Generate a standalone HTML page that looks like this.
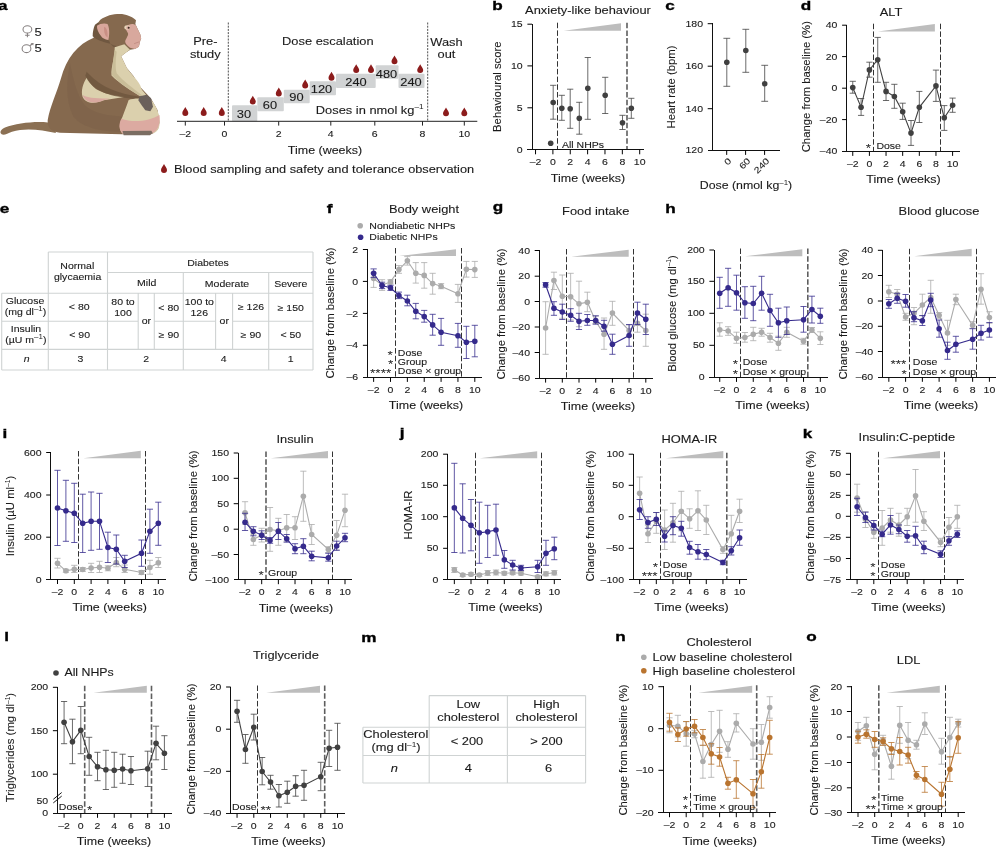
<!DOCTYPE html>
<html><head><meta charset="utf-8"><title>figure</title>
<style>html,body{margin:0;padding:0;background:#fff}body{width:996px;height:848px;overflow:hidden}svg{display:block;will-change:transform;font-family:"Liberation Sans",sans-serif;fill:#1a1a1a}</style>
</head><body>
<svg width="996" height="848" viewBox="0 0 996 848">
<rect width="996" height="848" fill="#fff"/>
<g transform="scale(0.166667)">
<path d="M330 742C250 722 110 735 30 765C5 776 -6 796 10 806C25 815 45 800 72 790C150 765 250 778 335 798Z" fill="#8b7053"/>
<path d="M602 118C640 92 680 82 732 84C770 90 800 105 816 122L812 144L842 207L847 231L842 243L833 280L809 294L780 299L766 308L727 337L761 408L800 455L840 520L905 590L945 660L957 735L948 775L915 802L730 806L360 796C312 792 283 770 286 722C300 640 340 560 366 470C396 350 470 262 562 226C568 180 582 140 602 118Z" fill="#85694e"/>
<path d="M420 380C400 480 390 600 440 700C500 770 620 790 720 790L735 700C700 690 600 700 520 640C470 600 440 480 420 380Z" fill="#7c6148" opacity="0.55"/>
<path d="M570 148L590 133L602 150C585 175 595 215 655 245L662 262C610 252 575 236 556 218C556 190 562 165 570 148Z" fill="#6f5740"/>
<path d="M662 262C690 275 720 285 745 266L780 299L766 308L740 312C710 300 680 285 662 262Z" fill="#6f5740" opacity="0.8"/>
<path d="M688 284L746 265L780 299L766 308L727 337L761 408C775 430 800 455 820 480C835 500 846 515 846 528C852 545 872 560 884 578L850 584C790 545 715 500 669 453C665 400 690 350 688 284Z" fill="#dbd0ad"/>
<path d="M688 300C680 350 672 400 672 450C715 500 790 545 850 584L850 570C800 530 740 490 700 440C690 400 695 350 700 310Z" fill="#c9bd98"/>
<path d="M520 466C498 500 484 545 496 582C512 618 562 628 622 602L745 582C700 572 600 562 560 520C540 500 530 482 520 466Z" fill="#dbd0ad"/>
<path d="M496 570C510 618 565 628 625 600L660 592C600 590 530 592 496 570Z" fill="#d9a9a0"/>
<path d="M512 455C550 540 640 572 745 586L858 598L860 584C770 572 640 545 560 470C545 455 530 440 520 430Z" fill="#6c543c" opacity="0.75"/>
<path d="M772 600C800 588 850 588 905 598C945 640 962 700 957 750C952 790 922 806 880 806L737 802C713 780 714 740 735 700C750 660 762 630 772 600Z" fill="#dbd0ad"/>
<path d="M728 712C800 740 900 725 957 690C962 740 952 790 900 806L737 802C712 778 712 745 728 712Z" fill="#dcaaa1"/>
<path d="M838 578L880 568L906 590L918 640L902 668L872 662L850 632L830 602Z" fill="#6a605b"/>
<path d="M735 786L908 784L916 798L900 811L742 811Z" fill="#7b6d62"/>
<path d="M582 154C600 140 630 138 645 144C655 160 660 200 650 240C630 238 612 228 606 216C590 195 580 172 582 154Z" fill="#d9a79b"/>
<path d="M625 160C640 165 648 190 645 225C630 215 622 190 625 160Z" fill="#c98f84"/>
<path d="M799 144L814 150L842 207L847 231L842 243L833 280L809 294L780 286C765 275 752 262 751 250C755 230 772 215 768 200C760 185 752 175 756 162C765 148 785 142 799 144Z" fill="#d8a89d"/>
<ellipse cx="763" cy="165" rx="17" ry="13" fill="#e6d3b8"/>
<ellipse cx="768" cy="166" rx="11" ry="9" fill="#d8a89d"/>
<circle cx="772" cy="166" r="6" fill="#3d2b22"/>
<path d="M805 262L838 250" stroke="#b88278" stroke-width="4" fill="none"/>
</g>
<text transform="translate(-1.9 9.7) scale(1.28 1)" font-size="13.4" font-weight="bold" fill="#000" stroke="#000" stroke-width="0.35">a</text>
<g fill="none" stroke="#868080" stroke-width="1.05"><ellipse cx="27.4" cy="29.4" rx="4.4" ry="3.6"/><path d="M27.4 33V37.3M25.1 35.3H29.6"/><ellipse cx="26.5" cy="48.7" rx="4.4" ry="3.9"/><path d="M29.8 45.7L32.6 43.7"/><path d="M30.6 43L33.7 42.9L33.2 45.6Z" fill="#8c8685" stroke="none"/></g>
<text transform="translate(34.5 35.7) scale(1.15 1)" font-size="11.3" stroke="#1a1a1a" stroke-width="0.1">5</text>
<text transform="translate(34.5 52.2) scale(1.15 1)" font-size="11.3" stroke="#1a1a1a" stroke-width="0.1">5</text>
<rect x="232" y="105.3" width="25.3" height="16" rx="1" fill="#d1d3d4"/>
<rect x="257.3" y="97.2" width="26.5" height="14.1" rx="1" fill="#d1d3d4"/>
<rect x="283.8" y="89.7" width="25.9" height="13.6" rx="1" fill="#d1d3d4"/>
<rect x="309.7" y="81.3" width="26.3" height="14" rx="1" fill="#d1d3d4"/>
<rect x="336" y="73.7" width="39.7" height="14.3" rx="1" fill="#d1d3d4"/>
<rect x="375.7" y="65.3" width="22.8" height="13.4" rx="1" fill="#d1d3d4"/>
<rect x="398.5" y="73.7" width="26" height="14.3" rx="1" fill="#d1d3d4"/>
<text transform="translate(244 118) scale(1.25 1)" font-size="10.3" text-anchor="middle" stroke="#1a1a1a" stroke-width="0.1">30</text>
<text transform="translate(270 108.6) scale(1.25 1)" font-size="10.3" text-anchor="middle" stroke="#1a1a1a" stroke-width="0.1">60</text>
<text transform="translate(296.5 100.8) scale(1.25 1)" font-size="10.3" text-anchor="middle" stroke="#1a1a1a" stroke-width="0.1">90</text>
<text transform="translate(321.5 93) scale(1.25 1)" font-size="10.3" text-anchor="middle" stroke="#1a1a1a" stroke-width="0.1">120</text>
<text transform="translate(356 85.5) scale(1.25 1)" font-size="10.3" text-anchor="middle" stroke="#1a1a1a" stroke-width="0.1">240</text>
<text transform="translate(386.5 77.5) scale(1.25 1)" font-size="10.3" text-anchor="middle" stroke="#1a1a1a" stroke-width="0.1">480</text>
<text transform="translate(411 85.5) scale(1.25 1)" font-size="10.3" text-anchor="middle" stroke="#1a1a1a" stroke-width="0.1">240</text>
<line x1="228.3" y1="22.5" x2="228.3" y2="121.3" stroke="#222" stroke-width="0.8" stroke-dasharray="2 1.2"/>
<line x1="427.7" y1="22.5" x2="427.7" y2="121.3" stroke="#222" stroke-width="0.8" stroke-dasharray="2 1.2"/>
<line x1="177" y1="121.3" x2="477.3" y2="121.3" stroke="#222" stroke-width="1"/>
<line x1="185.3" y1="121.3" x2="185.3" y2="125.6" stroke="#222" stroke-width="1"/>
<text transform="translate(185.3 137.3) scale(1.21 1)" font-size="8.7" text-anchor="middle" stroke="#1a1a1a" stroke-width="0.1">–2</text>
<line x1="224.5" y1="121.3" x2="224.5" y2="125.6" stroke="#222" stroke-width="1"/>
<text transform="translate(224.5 137.3) scale(1.21 1)" font-size="8.7" text-anchor="middle" stroke="#1a1a1a" stroke-width="0.1">0</text>
<line x1="278.7" y1="121.3" x2="278.7" y2="125.6" stroke="#222" stroke-width="1"/>
<text transform="translate(278.7 137.3) scale(1.21 1)" font-size="8.7" text-anchor="middle" stroke="#1a1a1a" stroke-width="0.1">2</text>
<line x1="330.8" y1="121.3" x2="330.8" y2="125.6" stroke="#222" stroke-width="1"/>
<text transform="translate(330.8 137.3) scale(1.21 1)" font-size="8.7" text-anchor="middle" stroke="#1a1a1a" stroke-width="0.1">4</text>
<line x1="374.8" y1="121.3" x2="374.8" y2="125.6" stroke="#222" stroke-width="1"/>
<text transform="translate(374.8 137.3) scale(1.21 1)" font-size="8.7" text-anchor="middle" stroke="#1a1a1a" stroke-width="0.1">6</text>
<line x1="422.5" y1="121.3" x2="422.5" y2="125.6" stroke="#222" stroke-width="1"/>
<text transform="translate(422.5 137.3) scale(1.21 1)" font-size="8.7" text-anchor="middle" stroke="#1a1a1a" stroke-width="0.1">8</text>
<line x1="464.3" y1="121.3" x2="464.3" y2="125.6" stroke="#222" stroke-width="1"/>
<text transform="translate(464.3 137.3) scale(1.21 1)" font-size="8.7" text-anchor="middle" stroke="#1a1a1a" stroke-width="0.1">10</text>
<path transform="translate(185.3 111.7)" d="M0 -4.6C0.9 -2.6 3 -0.6 3 1.3A3 3 0 0 1 -3 1.3C-3 -0.6 -0.9 -2.6 0 -4.6Z" fill="#8c1c1c"/>
<path transform="translate(203.7 111.7)" d="M0 -4.6C0.9 -2.6 3 -0.6 3 1.3A3 3 0 0 1 -3 1.3C-3 -0.6 -0.9 -2.6 0 -4.6Z" fill="#8c1c1c"/>
<path transform="translate(221.8 111.7)" d="M0 -4.6C0.9 -2.6 3 -0.6 3 1.3A3 3 0 0 1 -3 1.3C-3 -0.6 -0.9 -2.6 0 -4.6Z" fill="#8c1c1c"/>
<path transform="translate(252.8 100.3)" d="M0 -4.6C0.9 -2.6 3 -0.6 3 1.3A3 3 0 0 1 -3 1.3C-3 -0.6 -0.9 -2.6 0 -4.6Z" fill="#8c1c1c"/>
<path transform="translate(278.8 92.2)" d="M0 -4.6C0.9 -2.6 3 -0.6 3 1.3A3 3 0 0 1 -3 1.3C-3 -0.6 -0.9 -2.6 0 -4.6Z" fill="#8c1c1c"/>
<path transform="translate(305.2 84.2)" d="M0 -4.6C0.9 -2.6 3 -0.6 3 1.3A3 3 0 0 1 -3 1.3C-3 -0.6 -0.9 -2.6 0 -4.6Z" fill="#8c1c1c"/>
<path transform="translate(331.5 76.4)" d="M0 -4.6C0.9 -2.6 3 -0.6 3 1.3A3 3 0 0 1 -3 1.3C-3 -0.6 -0.9 -2.6 0 -4.6Z" fill="#8c1c1c"/>
<path transform="translate(356.2 68.8)" d="M0 -4.6C0.9 -2.6 3 -0.6 3 1.3A3 3 0 0 1 -3 1.3C-3 -0.6 -0.9 -2.6 0 -4.6Z" fill="#8c1c1c"/>
<path transform="translate(371 68.8)" d="M0 -4.6C0.9 -2.6 3 -0.6 3 1.3A3 3 0 0 1 -3 1.3C-3 -0.6 -0.9 -2.6 0 -4.6Z" fill="#8c1c1c"/>
<path transform="translate(394.5 60)" d="M0 -4.6C0.9 -2.6 3 -0.6 3 1.3A3 3 0 0 1 -3 1.3C-3 -0.6 -0.9 -2.6 0 -4.6Z" fill="#8c1c1c"/>
<path transform="translate(420.2 68.8)" d="M0 -4.6C0.9 -2.6 3 -0.6 3 1.3A3 3 0 0 1 -3 1.3C-3 -0.6 -0.9 -2.6 0 -4.6Z" fill="#8c1c1c"/>
<path transform="translate(446 112)" d="M0 -4.6C0.9 -2.6 3 -0.6 3 1.3A3 3 0 0 1 -3 1.3C-3 -0.6 -0.9 -2.6 0 -4.6Z" fill="#8c1c1c"/>
<path transform="translate(464.3 112)" d="M0 -4.6C0.9 -2.6 3 -0.6 3 1.3A3 3 0 0 1 -3 1.3C-3 -0.6 -0.9 -2.6 0 -4.6Z" fill="#8c1c1c"/>
<path transform="translate(164 168.6)" d="M0 -4.6C0.9 -2.6 3 -0.6 3 1.3A3 3 0 0 1 -3 1.3C-3 -0.6 -0.9 -2.6 0 -4.6Z" fill="#8c1c1c"/>
<text transform="translate(205.3 45.2) scale(1.25 1)" font-size="10.3" text-anchor="middle" stroke="#1a1a1a" stroke-width="0.1">Pre-</text>
<text transform="translate(205.3 58) scale(1.25 1)" font-size="10.3" text-anchor="middle" stroke="#1a1a1a" stroke-width="0.1">study</text>
<text transform="translate(327.8 45.2) scale(1.25 1)" font-size="10.3" text-anchor="middle" stroke="#1a1a1a" stroke-width="0.1">Dose escalation</text>
<text transform="translate(446.5 45.6) scale(1.25 1)" font-size="10.3" text-anchor="middle" stroke="#1a1a1a" stroke-width="0.1">Wash</text>
<text transform="translate(446.5 58.3) scale(1.25 1)" font-size="10.3" text-anchor="middle" stroke="#1a1a1a" stroke-width="0.1">out</text>
<text transform="translate(423.6 113.7) scale(1.25 1)" font-size="10.3" text-anchor="end" stroke="#1a1a1a" stroke-width="0.1">Doses in nmol kg<tspan dy="-4.3" font-size="6.6" stroke="none">–1</tspan></text>
<text transform="translate(325 154.4) scale(1.21 1)" font-size="10.3" text-anchor="middle" stroke="#1a1a1a" stroke-width="0.1">Time (weeks)</text>
<text transform="translate(174 172.6) scale(1.24 1)" font-size="10.3" stroke="#1a1a1a" stroke-width="0.1">Blood sampling and safety and tolerance observation</text>
<text transform="translate(492.3 9.8) scale(1.28 1)" font-size="13.4" font-weight="bold" fill="#000" stroke="#000" stroke-width="0.35">b</text>
<text transform="translate(588 14) scale(1.25 1)" font-size="10.3" text-anchor="middle" stroke="#1a1a1a" stroke-width="0.1">Anxiety-like behaviour</text>
<g>
<path d="M563.7 30.7L621 30.7L621 23.3Z" fill="#bdbdbd"/>
<line x1="557.5" y1="22.7" x2="557.5" y2="149.7" stroke="#333" stroke-width="1" stroke-dasharray="5.5 2.2"/>
<line x1="627" y1="22.7" x2="627" y2="149.7" stroke="#5e5e5e" stroke-width="1.6" stroke-dasharray="5.5 2.2"/>
<path d="M553.2 85.3V119.2M550.1 85.3H556.3M550.1 119.2H556.3M561.8 95.3V120.3M558.7 95.3H564.9M558.7 120.3H564.9M570.2 89.2V128.3M567.1 89.2H573.3M567.1 128.3H573.3M579.3 102.3V134.2M576.2 102.3H582.4M576.2 134.2H582.4M587.8 57.5V119.3M584.7 57.5H590.9M584.7 119.3H590.9M605.2 77.3V113.5M602.1 77.3H608.3M602.1 113.5H608.3M622.5 115.3V129.5M619.4 115.3H625.6M619.4 129.5H625.6M631.3 98.3V118.3M628.2 98.3H634.4M628.2 118.3H634.4" stroke="#404040" stroke-width="0.85" fill="none" opacity="0.92"/>
<circle cx="553.2" cy="102.5" r="2.8" fill="#404040"/>
<circle cx="561.8" cy="108.3" r="2.8" fill="#404040"/>
<circle cx="570.2" cy="108.8" r="2.8" fill="#404040"/>
<circle cx="579.3" cy="118.3" r="2.8" fill="#404040"/>
<circle cx="587.8" cy="88.3" r="2.8" fill="#404040"/>
<circle cx="605.2" cy="95.3" r="2.8" fill="#404040"/>
<circle cx="622.5" cy="122.8" r="2.8" fill="#404040"/>
<circle cx="631.3" cy="108.3" r="2.8" fill="#404040"/>
<line x1="532" y1="23.7" x2="532" y2="150.2" stroke="#111" stroke-width="1" shape-rendering="crispEdges"/>
<line x1="527.4" y1="149.7" x2="644.3" y2="149.7" stroke="#111" stroke-width="1" shape-rendering="crispEdges"/>
<line x1="527.4" y1="24.2" x2="532" y2="24.2" stroke="#000" stroke-width="1"/>
<text transform="translate(522.7 27.35) scale(1.21 1)" font-size="8.7" text-anchor="end" stroke="#1a1a1a" stroke-width="0.1">15</text>
<line x1="527.4" y1="65.9" x2="532" y2="65.9" stroke="#000" stroke-width="1"/>
<text transform="translate(522.7 69.05) scale(1.21 1)" font-size="8.7" text-anchor="end" stroke="#1a1a1a" stroke-width="0.1">10</text>
<line x1="527.4" y1="107.8" x2="532" y2="107.8" stroke="#000" stroke-width="1"/>
<text transform="translate(522.7 110.95) scale(1.21 1)" font-size="8.7" text-anchor="end" stroke="#1a1a1a" stroke-width="0.1">5</text>
<text transform="translate(522.7 152.85) scale(1.21 1)" font-size="8.7" text-anchor="end" stroke="#1a1a1a" stroke-width="0.1">0</text>
<line x1="535.54" y1="149.7" x2="535.54" y2="154.3" stroke="#000" stroke-width="1"/>
<text transform="translate(535.54 165.2) scale(1.21 1)" font-size="8.7" text-anchor="middle" stroke="#1a1a1a" stroke-width="0.1">–2</text>
<line x1="552.9" y1="149.7" x2="552.9" y2="154.3" stroke="#000" stroke-width="1"/>
<text transform="translate(552.9 165.2) scale(1.21 1)" font-size="8.7" text-anchor="middle" stroke="#1a1a1a" stroke-width="0.1">0</text>
<line x1="570.26" y1="149.7" x2="570.26" y2="154.3" stroke="#000" stroke-width="1"/>
<text transform="translate(570.26 165.2) scale(1.21 1)" font-size="8.7" text-anchor="middle" stroke="#1a1a1a" stroke-width="0.1">2</text>
<line x1="587.62" y1="149.7" x2="587.62" y2="154.3" stroke="#000" stroke-width="1"/>
<text transform="translate(587.62 165.2) scale(1.21 1)" font-size="8.7" text-anchor="middle" stroke="#1a1a1a" stroke-width="0.1">4</text>
<line x1="604.98" y1="149.7" x2="604.98" y2="154.3" stroke="#000" stroke-width="1"/>
<text transform="translate(604.98 165.2) scale(1.21 1)" font-size="8.7" text-anchor="middle" stroke="#1a1a1a" stroke-width="0.1">6</text>
<line x1="622.34" y1="149.7" x2="622.34" y2="154.3" stroke="#000" stroke-width="1"/>
<text transform="translate(622.34 165.2) scale(1.21 1)" font-size="8.7" text-anchor="middle" stroke="#1a1a1a" stroke-width="0.1">8</text>
<line x1="639.7" y1="149.7" x2="639.7" y2="154.3" stroke="#000" stroke-width="1"/>
<text transform="translate(639.7 165.2) scale(1.21 1)" font-size="8.7" text-anchor="middle" stroke="#1a1a1a" stroke-width="0.1">10</text>
<text transform="translate(588 181.6) scale(1.21 1)" font-size="10.3" text-anchor="middle" stroke="#1a1a1a" stroke-width="0.1">Time (weeks)</text>
<text transform="translate(501.3 86.7) rotate(-90) scale(1 1)" font-size="11.3" text-anchor="middle" stroke="#1a1a1a" stroke-width="0.1">Behavioural score</text>
</g>
<circle cx="550.7" cy="143.3" r="2.8" fill="#404040"/>
<text transform="translate(562 147.5) scale(1.21 1)" font-size="8.7" stroke="#1a1a1a" stroke-width="0.1">All NHPs</text>
<text transform="translate(665.3 9.8) scale(1.28 1)" font-size="13.4" font-weight="bold" fill="#000" stroke="#000" stroke-width="0.35">c</text>
<g>
<path d="M726.8 38.3V86.3M723.4 38.3H730.2M723.4 86.3H730.2M745.8 29.3V72.3M742.4 29.3H749.2M742.4 72.3H749.2M764.7 65.3V101.3M761.3 65.3H768.1M761.3 101.3H768.1" stroke="#404040" stroke-width="0.85" fill="none" opacity="0.92"/>
<circle cx="726.8" cy="62.3" r="2.8" fill="#404040"/>
<circle cx="745.8" cy="50.5" r="2.8" fill="#404040"/>
<circle cx="764.7" cy="83.7" r="2.8" fill="#404040"/>
<line x1="712.3" y1="23.2" x2="712.3" y2="150.8" stroke="#111" stroke-width="1" shape-rendering="crispEdges"/>
<line x1="707.7" y1="150.3" x2="779.7" y2="150.3" stroke="#111" stroke-width="1" shape-rendering="crispEdges"/>
<line x1="707.7" y1="23.7" x2="712.3" y2="23.7" stroke="#000" stroke-width="1"/>
<text transform="translate(703 26.85) scale(1.21 1)" font-size="8.7" text-anchor="end" stroke="#1a1a1a" stroke-width="0.1">180</text>
<line x1="707.7" y1="66.2" x2="712.3" y2="66.2" stroke="#000" stroke-width="1"/>
<text transform="translate(703 69.35) scale(1.21 1)" font-size="8.7" text-anchor="end" stroke="#1a1a1a" stroke-width="0.1">160</text>
<line x1="707.7" y1="108.7" x2="712.3" y2="108.7" stroke="#000" stroke-width="1"/>
<text transform="translate(703 111.85) scale(1.21 1)" font-size="8.7" text-anchor="end" stroke="#1a1a1a" stroke-width="0.1">140</text>
<text transform="translate(703 153.45) scale(1.21 1)" font-size="8.7" text-anchor="end" stroke="#1a1a1a" stroke-width="0.1">120</text>
<line x1="726.7" y1="150.3" x2="726.7" y2="154.9" stroke="#000" stroke-width="1"/>
<line x1="745.6" y1="150.3" x2="745.6" y2="154.9" stroke="#000" stroke-width="1"/>
<line x1="764.6" y1="150.3" x2="764.6" y2="154.9" stroke="#000" stroke-width="1"/>
<text transform="translate(732 161.5) rotate(-45) scale(1.21 1)" font-size="8.7" text-anchor="end" stroke="#1a1a1a" stroke-width="0.1">0</text>
<text transform="translate(750.9 161.5) rotate(-45) scale(1.21 1)" font-size="8.7" text-anchor="end" stroke="#1a1a1a" stroke-width="0.1">60</text>
<text transform="translate(769.9 161.5) rotate(-45) scale(1.21 1)" font-size="8.7" text-anchor="end" stroke="#1a1a1a" stroke-width="0.1">240</text>
<text transform="translate(674.8 87) rotate(-90) scale(1 1)" font-size="11.3" text-anchor="middle" stroke="#1a1a1a" stroke-width="0.1">Heart rate (bpm)</text>
</g>
<text transform="translate(746 189.2) scale(1.2 1)" font-size="10.3" text-anchor="middle" stroke="#1a1a1a" stroke-width="0.1">Dose (nmol kg<tspan dy="-4.3" font-size="6.6" stroke="none">–1</tspan><tspan dy="4.3">)</tspan></text>
<text transform="translate(800.8 9.8) scale(1.28 1)" font-size="13.4" font-weight="bold" fill="#000" stroke="#000" stroke-width="0.35">d</text>
<text transform="translate(891 15.8) scale(1.25 1)" font-size="10.3" text-anchor="middle" stroke="#1a1a1a" stroke-width="0.1">ALT</text>
<g>
<path d="M877.8 31.5L934.9 31.5L934.9 24Z" fill="#bdbdbd"/>
<line x1="873.5" y1="23.7" x2="873.5" y2="151.3" stroke="#333" stroke-width="1" stroke-dasharray="5.5 2.2"/>
<line x1="940.5" y1="23.7" x2="940.5" y2="151.3" stroke="#333" stroke-width="1" stroke-dasharray="5.5 2.2"/>
<path d="M852.76 81.3V93.2M849.66 81.3H855.86M849.66 93.2H855.86M861.08 98.5V115.4M857.98 98.5H864.18M857.98 115.4H864.18M869.4 62.2V77.2M866.3 62.2H872.5M866.3 77.2H872.5M877.72 37.4V82.3M874.62 37.4H880.82M874.62 82.3H880.82M886.04 82.3V100.5M882.94 82.3H889.14M882.94 100.5H889.14M894.36 84.3V108.3M891.26 84.3H897.46M891.26 108.3H897.46M902.68 103.2V119.4M899.58 103.2H905.78M899.58 119.4H905.78M911 120.5V145.4M907.9 120.5H914.1M907.9 145.4H914.1M919.32 91.4V122.5M916.22 91.4H922.42M916.22 122.5H922.42M935.96 70.1V101.4M932.86 70.1H939.06M932.86 101.4H939.06M944.28 105.6V130.4M941.18 105.6H947.38M941.18 130.4H947.38M952.6 98.1V112.3M949.5 98.1H955.7M949.5 112.3H955.7" stroke="#404040" stroke-width="0.85" fill="none" opacity="0.92"/>
<polyline points="852.76,87.6 861.08,107.3 869.4,69.9 877.72,59.7 886.04,91.4 894.36,96.5 902.68,111.7 911,133.1 919.32,107.3 935.96,85.9 944.28,117.8 952.6,105.2" fill="none" stroke="#404040" stroke-width="1.1"/>
<circle cx="852.76" cy="87.6" r="2.8" fill="#404040"/>
<circle cx="861.08" cy="107.3" r="2.8" fill="#404040"/>
<circle cx="869.4" cy="69.9" r="2.8" fill="#404040"/>
<circle cx="877.72" cy="59.7" r="2.8" fill="#404040"/>
<circle cx="886.04" cy="91.4" r="2.8" fill="#404040"/>
<circle cx="894.36" cy="96.5" r="2.8" fill="#404040"/>
<circle cx="902.68" cy="111.7" r="2.8" fill="#404040"/>
<circle cx="911" cy="133.1" r="2.8" fill="#404040"/>
<circle cx="919.32" cy="107.3" r="2.8" fill="#404040"/>
<circle cx="935.96" cy="85.9" r="2.8" fill="#404040"/>
<circle cx="944.28" cy="117.8" r="2.8" fill="#404040"/>
<circle cx="952.6" cy="105.2" r="2.8" fill="#404040"/>
<line x1="846.7" y1="24.7" x2="846.7" y2="151.8" stroke="#111" stroke-width="1" shape-rendering="crispEdges"/>
<line x1="842.1" y1="151.3" x2="959.5" y2="151.3" stroke="#111" stroke-width="1" shape-rendering="crispEdges"/>
<line x1="842.1" y1="25.2" x2="846.7" y2="25.2" stroke="#000" stroke-width="1"/>
<text transform="translate(837.4 28.35) scale(1.21 1)" font-size="8.7" text-anchor="end" stroke="#1a1a1a" stroke-width="0.1">40</text>
<line x1="842.1" y1="56.6" x2="846.7" y2="56.6" stroke="#000" stroke-width="1"/>
<text transform="translate(837.4 59.75) scale(1.21 1)" font-size="8.7" text-anchor="end" stroke="#1a1a1a" stroke-width="0.1">20</text>
<line x1="842.1" y1="88.2" x2="846.7" y2="88.2" stroke="#000" stroke-width="1"/>
<text transform="translate(837.4 91.35) scale(1.21 1)" font-size="8.7" text-anchor="end" stroke="#1a1a1a" stroke-width="0.1">0</text>
<line x1="842.1" y1="119.6" x2="846.7" y2="119.6" stroke="#000" stroke-width="1"/>
<text transform="translate(837.4 122.75) scale(1.21 1)" font-size="8.7" text-anchor="end" stroke="#1a1a1a" stroke-width="0.1">–20</text>
<text transform="translate(837.4 154.45) scale(1.21 1)" font-size="8.7" text-anchor="end" stroke="#1a1a1a" stroke-width="0.1">–40</text>
<line x1="852.76" y1="151.3" x2="852.76" y2="155.9" stroke="#000" stroke-width="1"/>
<text transform="translate(852.76 166.8) scale(1.21 1)" font-size="8.7" text-anchor="middle" stroke="#1a1a1a" stroke-width="0.1">–2</text>
<line x1="869.4" y1="151.3" x2="869.4" y2="155.9" stroke="#000" stroke-width="1"/>
<text transform="translate(869.4 166.8) scale(1.21 1)" font-size="8.7" text-anchor="middle" stroke="#1a1a1a" stroke-width="0.1">0</text>
<line x1="886.04" y1="151.3" x2="886.04" y2="155.9" stroke="#000" stroke-width="1"/>
<text transform="translate(886.04 166.8) scale(1.21 1)" font-size="8.7" text-anchor="middle" stroke="#1a1a1a" stroke-width="0.1">2</text>
<line x1="902.68" y1="151.3" x2="902.68" y2="155.9" stroke="#000" stroke-width="1"/>
<text transform="translate(902.68 166.8) scale(1.21 1)" font-size="8.7" text-anchor="middle" stroke="#1a1a1a" stroke-width="0.1">4</text>
<line x1="919.32" y1="151.3" x2="919.32" y2="155.9" stroke="#000" stroke-width="1"/>
<text transform="translate(919.32 166.8) scale(1.21 1)" font-size="8.7" text-anchor="middle" stroke="#1a1a1a" stroke-width="0.1">6</text>
<line x1="935.96" y1="151.3" x2="935.96" y2="155.9" stroke="#000" stroke-width="1"/>
<text transform="translate(935.96 166.8) scale(1.21 1)" font-size="8.7" text-anchor="middle" stroke="#1a1a1a" stroke-width="0.1">8</text>
<line x1="952.6" y1="151.3" x2="952.6" y2="155.9" stroke="#000" stroke-width="1"/>
<text transform="translate(952.6 166.8) scale(1.21 1)" font-size="8.7" text-anchor="middle" stroke="#1a1a1a" stroke-width="0.1">10</text>
<text transform="translate(903.5 183.2) scale(1.21 1)" font-size="10.3" text-anchor="middle" stroke="#1a1a1a" stroke-width="0.1">Time (weeks)</text>
<text transform="translate(810.3 86.7) rotate(-90) scale(1 1)" font-size="11.3" text-anchor="middle" stroke="#1a1a1a" stroke-width="0.1">Change from baseline (%)</text>
</g>
<text transform="translate(868.5 152.1) scale(1.21 1)" font-size="11.3" text-anchor="middle" >*</text>
<text transform="translate(876.4 149.1) scale(1.21 1)" font-size="8.7" stroke="#1a1a1a" stroke-width="0.1">Dose</text>
<text transform="translate(-0.2 212.5) scale(1.28 1)" font-size="13.4" font-weight="bold" fill="#000" stroke="#000" stroke-width="0.35">e</text>
<path d="M48.3 252H313M107.5 272.5H313M1.7 293.3H313M1.7 321.3H138.2M154.3 321.3H215.6M232.6 321.3H313M1.7 349.4H313M1.7 370H313M1.7 293.3V370M48.3 252V370M107.5 252V370M138.2 293.3V349.4M154.3 293.3V349.4M183.3 272.5V370M215.6 293.3V349.4M232.6 293.3V349.4M268.7 272.5V370M313 252V370" stroke="#cfd3d3" stroke-width="1.1" fill="none"/>
<text transform="translate(77.3 269.2) scale(1.21 1)" font-size="8.7" text-anchor="middle" stroke="#1a1a1a" stroke-width="0.1">Normal</text>
<text transform="translate(77.6 280.4) scale(1.21 1)" font-size="8.7" text-anchor="middle" stroke="#1a1a1a" stroke-width="0.1">glycaemia</text>
<text transform="translate(208 265.8) scale(1.21 1)" font-size="8.7" text-anchor="middle" stroke="#1a1a1a" stroke-width="0.1">Diabetes</text>
<text transform="translate(146.7 285.9) scale(1.21 1)" font-size="8.7" text-anchor="middle" stroke="#1a1a1a" stroke-width="0.1">Mild</text>
<text transform="translate(227 286.6) scale(1.21 1)" font-size="8.7" text-anchor="middle" stroke="#1a1a1a" stroke-width="0.1">Moderate</text>
<text transform="translate(290.8 286.6) scale(1.21 1)" font-size="8.7" text-anchor="middle" stroke="#1a1a1a" stroke-width="0.1">Severe</text>
<text transform="translate(25 304.3) scale(1.21 1)" font-size="8.7" text-anchor="middle" stroke="#1a1a1a" stroke-width="0.1">Glucose</text>
<text transform="translate(26 331.8) scale(1.21 1)" font-size="8.7" text-anchor="middle" stroke="#1a1a1a" stroke-width="0.1">Insulin</text>
<text transform="translate(79.2 309.8) scale(1.21 1)" font-size="8.7" text-anchor="middle" stroke="#1a1a1a" stroke-width="0.1">&lt; 80</text>
<text transform="translate(79.6 337.6) scale(1.21 1)" font-size="8.7" text-anchor="middle" stroke="#1a1a1a" stroke-width="0.1">&lt; 90</text>
<text transform="translate(123 304.7) scale(1.21 1)" font-size="8.7" text-anchor="middle" stroke="#1a1a1a" stroke-width="0.1">80 to</text>
<text transform="translate(123 316.3) scale(1.21 1)" font-size="8.7" text-anchor="middle" stroke="#1a1a1a" stroke-width="0.1">100</text>
<text transform="translate(146.4 323.7) scale(1.21 1)" font-size="8.7" text-anchor="middle" stroke="#1a1a1a" stroke-width="0.1">or</text>
<text transform="translate(168.7 311.2) scale(1.21 1)" font-size="8.7" text-anchor="middle" stroke="#1a1a1a" stroke-width="0.1">&lt; 80</text>
<text transform="translate(169 338.3) scale(1.21 1)" font-size="8.7" text-anchor="middle" stroke="#1a1a1a" stroke-width="0.1">≥ 90</text>
<text transform="translate(199.3 304.7) scale(1.21 1)" font-size="8.7" text-anchor="middle" stroke="#1a1a1a" stroke-width="0.1">100 to</text>
<text transform="translate(199.3 316.3) scale(1.21 1)" font-size="8.7" text-anchor="middle" stroke="#1a1a1a" stroke-width="0.1">126</text>
<text transform="translate(224.2 323.7) scale(1.21 1)" font-size="8.7" text-anchor="middle" stroke="#1a1a1a" stroke-width="0.1">or</text>
<text transform="translate(251 310.4) scale(1.21 1)" font-size="8.7" text-anchor="middle" stroke="#1a1a1a" stroke-width="0.1">≥ 126</text>
<text transform="translate(251 337.8) scale(1.21 1)" font-size="8.7" text-anchor="middle" stroke="#1a1a1a" stroke-width="0.1">≥ 90</text>
<text transform="translate(290.8 311) scale(1.21 1)" font-size="8.7" text-anchor="middle" stroke="#1a1a1a" stroke-width="0.1">≥ 150</text>
<text transform="translate(290.8 338.4) scale(1.21 1)" font-size="8.7" text-anchor="middle" stroke="#1a1a1a" stroke-width="0.1">&lt; 50</text>
<text transform="translate(80.5 362.2) scale(1.21 1)" font-size="8.7" text-anchor="middle" stroke="#1a1a1a" stroke-width="0.1">3</text>
<text transform="translate(146.3 362.2) scale(1.21 1)" font-size="8.7" text-anchor="middle" stroke="#1a1a1a" stroke-width="0.1">2</text>
<text transform="translate(223.7 362.2) scale(1.21 1)" font-size="8.7" text-anchor="middle" stroke="#1a1a1a" stroke-width="0.1">4</text>
<text transform="translate(290.8 362.2) scale(1.21 1)" font-size="8.7" text-anchor="middle" stroke="#1a1a1a" stroke-width="0.1">1</text>
<text transform="translate(26.6 362.2) scale(1.21 1)" font-size="8.7" text-anchor="middle" font-style="italic" stroke="#1a1a1a" stroke-width="0.1">n</text>
<text transform="translate(25.5 315.2) scale(1.21 1)" font-size="8.7" text-anchor="middle" stroke="#1a1a1a" stroke-width="0.1">(mg dl<tspan dy="-4.3" font-size="6.6" stroke="none">–1</tspan><tspan dy="4.3">)</tspan></text>
<text transform="translate(25.8 343.4) scale(1.21 1)" font-size="8.7" text-anchor="middle" stroke="#1a1a1a" stroke-width="0.1">(µU m<tspan dy="-4.3" font-size="6.6" stroke="none">–1</tspan><tspan dy="4.3">)</tspan></text>
<text transform="translate(326.8 212.9) scale(1.28 1)" font-size="13.4" font-weight="bold" fill="#000" stroke="#000" stroke-width="0.35">f</text>
<text transform="translate(424 213) scale(1.25 1)" font-size="10.3" text-anchor="middle" stroke="#1a1a1a" stroke-width="0.1">Body weight</text>
<circle cx="360.2" cy="225.8" r="2.8" fill="#ababab"/>
<circle cx="360.6" cy="237.2" r="2.8" fill="#352a8c"/>
<text transform="translate(369.3 228.8) scale(1.21 1)" font-size="8.7" stroke="#1a1a1a" stroke-width="0.1">Nondiabetic NHPs</text>
<text transform="translate(369.3 240.3) scale(1.21 1)" font-size="8.7" stroke="#1a1a1a" stroke-width="0.1">Diabetic NHPs</text>
<g>
<path d="M399 256.1L456 256.1L456 249.2Z" fill="#bdbdbd"/>
<line x1="395.5" y1="248" x2="395.5" y2="377.3" stroke="#333" stroke-width="1" stroke-dasharray="5.5 2.2"/>
<line x1="461.5" y1="248" x2="461.5" y2="377.3" stroke="#333" stroke-width="1" stroke-dasharray="5.5 2.2"/>
<path d="M373.64 272.8V287.4M370.54 272.8H376.74M370.54 287.4H376.74M382.07 279.7V290.4M378.97 279.7H385.17M378.97 290.4H385.17M390.5 279.7V284M387.4 279.7H393.6M387.4 284H393.6M398.93 265.6V273.3M395.83 265.6H402.03M395.83 273.3H402.03M407.36 256.6V265.1M404.26 256.6H410.46M404.26 265.1H410.46M415.79 262.6V283.1M412.69 262.6H418.89M412.69 283.1H418.89M424.22 262.6V288.2M421.12 262.6H427.32M421.12 288.2H427.32M432.65 273.3V294.2M429.55 273.3H435.75M429.55 294.2H435.75M441.08 283.6V288.7M437.98 283.6H444.18M437.98 288.7H444.18M457.94 284.4V302.4M454.84 284.4H461.04M454.84 302.4H461.04M466.37 261.4V277.1M463.27 261.4H469.47M463.27 277.1H469.47M474.8 261.4V277.4M471.7 261.4H477.9M471.7 277.4H477.9" stroke="#ababab" stroke-width="0.85" fill="none" opacity="0.92"/>
<polyline points="373.64,278.5 382.07,285.1 390.5,281.9 398.93,269.6 407.36,260.8 415.79,273.2 424.22,275.4 432.65,283.6 441.08,286.2 457.94,293.7 466.37,269.2 474.8,269.6" fill="none" stroke="#ababab" stroke-width="1.1"/>
<circle cx="373.64" cy="278.5" r="2.8" fill="#ababab"/>
<circle cx="382.07" cy="285.1" r="2.8" fill="#ababab"/>
<circle cx="390.5" cy="281.9" r="2.8" fill="#ababab"/>
<circle cx="398.93" cy="269.6" r="2.8" fill="#ababab"/>
<circle cx="407.36" cy="260.8" r="2.8" fill="#ababab"/>
<circle cx="415.79" cy="273.2" r="2.8" fill="#ababab"/>
<circle cx="424.22" cy="275.4" r="2.8" fill="#ababab"/>
<circle cx="432.65" cy="283.6" r="2.8" fill="#ababab"/>
<circle cx="441.08" cy="286.2" r="2.8" fill="#ababab"/>
<circle cx="457.94" cy="293.7" r="2.8" fill="#ababab"/>
<circle cx="466.37" cy="269.2" r="2.8" fill="#ababab"/>
<circle cx="474.8" cy="269.6" r="2.8" fill="#ababab"/>
<path d="M373.64 268.9V277.4M370.54 268.9H376.74M370.54 277.4H376.74M382.07 282.2V288.6M378.97 282.2H385.17M378.97 288.6H385.17M390.5 285.3V290.4M387.4 285.3H393.6M387.4 290.4H393.6M398.93 292.1V298.6M395.83 292.1H402.03M395.83 298.6H402.03M407.36 295.2V305.8M404.26 295.2H410.46M404.26 305.8H410.46M415.79 303.4V318.8M412.69 303.4H418.89M412.69 318.8H418.89M424.22 310.4V322.2M421.12 310.4H427.32M421.12 322.2H427.32M432.65 314.3V335.2M429.55 314.3H435.75M429.55 335.2H435.75M441.08 318.4V345.3M437.98 318.4H444.18M437.98 345.3H444.18M457.94 323.4V347.3M454.84 323.4H461.04M454.84 347.3H461.04M466.37 326.3V358.5M463.27 326.3H469.47M463.27 358.5H469.47M474.8 325.3V356.8M471.7 325.3H477.9M471.7 356.8H477.9" stroke="#352a8c" stroke-width="0.85" fill="none" opacity="0.92"/>
<polyline points="373.64,273.3 382.07,285.6 390.5,287.8 398.93,295.5 407.36,301 415.79,311.3 424.22,316.6 432.65,324.9 441.08,332.3 457.94,335.7 466.37,342.2 474.8,341.2" fill="none" stroke="#352a8c" stroke-width="1.1"/>
<circle cx="373.64" cy="273.3" r="2.8" fill="#352a8c"/>
<circle cx="382.07" cy="285.6" r="2.8" fill="#352a8c"/>
<circle cx="390.5" cy="287.8" r="2.8" fill="#352a8c"/>
<circle cx="398.93" cy="295.5" r="2.8" fill="#352a8c"/>
<circle cx="407.36" cy="301" r="2.8" fill="#352a8c"/>
<circle cx="415.79" cy="311.3" r="2.8" fill="#352a8c"/>
<circle cx="424.22" cy="316.6" r="2.8" fill="#352a8c"/>
<circle cx="432.65" cy="324.9" r="2.8" fill="#352a8c"/>
<circle cx="441.08" cy="332.3" r="2.8" fill="#352a8c"/>
<circle cx="457.94" cy="335.7" r="2.8" fill="#352a8c"/>
<circle cx="466.37" cy="342.2" r="2.8" fill="#352a8c"/>
<circle cx="474.8" cy="341.2" r="2.8" fill="#352a8c"/>
<line x1="367.5" y1="249" x2="367.5" y2="377.8" stroke="#111" stroke-width="1" shape-rendering="crispEdges"/>
<line x1="362.9" y1="377.3" x2="481.6" y2="377.3" stroke="#111" stroke-width="1" shape-rendering="crispEdges"/>
<line x1="362.9" y1="249.5" x2="367.5" y2="249.5" stroke="#000" stroke-width="1"/>
<text transform="translate(358.2 252.65) scale(1.21 1)" font-size="8.7" text-anchor="end" stroke="#1a1a1a" stroke-width="0.1">2</text>
<line x1="362.9" y1="281.4" x2="367.5" y2="281.4" stroke="#000" stroke-width="1"/>
<text transform="translate(358.2 284.55) scale(1.21 1)" font-size="8.7" text-anchor="end" stroke="#1a1a1a" stroke-width="0.1">0</text>
<line x1="362.9" y1="313.4" x2="367.5" y2="313.4" stroke="#000" stroke-width="1"/>
<text transform="translate(358.2 316.55) scale(1.21 1)" font-size="8.7" text-anchor="end" stroke="#1a1a1a" stroke-width="0.1">–2</text>
<line x1="362.9" y1="345.3" x2="367.5" y2="345.3" stroke="#000" stroke-width="1"/>
<text transform="translate(358.2 348.45) scale(1.21 1)" font-size="8.7" text-anchor="end" stroke="#1a1a1a" stroke-width="0.1">–4</text>
<text transform="translate(358.2 380.45) scale(1.21 1)" font-size="8.7" text-anchor="end" stroke="#1a1a1a" stroke-width="0.1">–6</text>
<line x1="373.64" y1="377.3" x2="373.64" y2="381.9" stroke="#000" stroke-width="1"/>
<text transform="translate(373.64 392.8) scale(1.21 1)" font-size="8.7" text-anchor="middle" stroke="#1a1a1a" stroke-width="0.1">–2</text>
<line x1="390.5" y1="377.3" x2="390.5" y2="381.9" stroke="#000" stroke-width="1"/>
<text transform="translate(390.5 392.8) scale(1.21 1)" font-size="8.7" text-anchor="middle" stroke="#1a1a1a" stroke-width="0.1">0</text>
<line x1="407.36" y1="377.3" x2="407.36" y2="381.9" stroke="#000" stroke-width="1"/>
<text transform="translate(407.36 392.8) scale(1.21 1)" font-size="8.7" text-anchor="middle" stroke="#1a1a1a" stroke-width="0.1">2</text>
<line x1="424.22" y1="377.3" x2="424.22" y2="381.9" stroke="#000" stroke-width="1"/>
<text transform="translate(424.22 392.8) scale(1.21 1)" font-size="8.7" text-anchor="middle" stroke="#1a1a1a" stroke-width="0.1">4</text>
<line x1="441.08" y1="377.3" x2="441.08" y2="381.9" stroke="#000" stroke-width="1"/>
<text transform="translate(441.08 392.8) scale(1.21 1)" font-size="8.7" text-anchor="middle" stroke="#1a1a1a" stroke-width="0.1">6</text>
<line x1="457.94" y1="377.3" x2="457.94" y2="381.9" stroke="#000" stroke-width="1"/>
<text transform="translate(457.94 392.8) scale(1.21 1)" font-size="8.7" text-anchor="middle" stroke="#1a1a1a" stroke-width="0.1">8</text>
<line x1="474.8" y1="377.3" x2="474.8" y2="381.9" stroke="#000" stroke-width="1"/>
<text transform="translate(474.8 392.8) scale(1.21 1)" font-size="8.7" text-anchor="middle" stroke="#1a1a1a" stroke-width="0.1">10</text>
<text transform="translate(426 409.2) scale(1.21 1)" font-size="10.3" text-anchor="middle" stroke="#1a1a1a" stroke-width="0.1">Time (weeks)</text>
<text transform="translate(333.5 313) rotate(-90) scale(1 1)" font-size="11.3" text-anchor="middle" stroke="#1a1a1a" stroke-width="0.1">Change from baseline (%)</text>
</g>
<text transform="translate(390.1 358.8) scale(1.21 1)" font-size="11.3" text-anchor="middle" >*</text>
<text transform="translate(390.6 367.9) scale(1.21 1)" font-size="11.3" text-anchor="middle" >*</text>
<text transform="translate(391.3 377) scale(1.21 1)" font-size="11.3" text-anchor="end" >****</text>
<text transform="translate(397.8 355.7) scale(1.21 1)" font-size="8.7" stroke="#1a1a1a" stroke-width="0.1">Dose</text>
<text transform="translate(397.8 364.8) scale(1.21 1)" font-size="8.7" stroke="#1a1a1a" stroke-width="0.1">Group</text>
<text transform="translate(397.8 373.9) scale(1.21 1)" font-size="8.7" stroke="#1a1a1a" stroke-width="0.1">Dose × group</text>
<text transform="translate(492.8 211) scale(1.28 1)" font-size="13.4" font-weight="bold" fill="#000" stroke="#000" stroke-width="0.35">g</text>
<text transform="translate(595.7 214.5) scale(1.25 1)" font-size="10.3" text-anchor="middle" stroke="#1a1a1a" stroke-width="0.1">Food intake</text>
<g>
<path d="M571.2 256.7L628.7 256.7L628.7 249.7Z" fill="#bdbdbd"/>
<line x1="566.5" y1="249" x2="566.5" y2="378" stroke="#333" stroke-width="1" stroke-dasharray="5.5 2.2"/>
<line x1="633.5" y1="249" x2="633.5" y2="378" stroke="#333" stroke-width="1" stroke-dasharray="5.5 2.2"/>
<path d="M545.6 301.7V354.3M542.5 301.7H548.7M542.5 354.3H548.7M553.95 272.2V289.5M550.85 272.2H557.05M550.85 289.5H557.05M562.3 275V318.3M559.2 275H565.4M559.2 318.3H565.4M570.65 273.3V320M567.55 273.3H573.75M567.55 320H573.75M579 281.2V326.7M575.9 281.2H582.1M575.9 326.7H582.1M587.35 292.2V311.7M584.25 292.2H590.45M584.25 311.7H590.45M595.7 316V323.5M592.6 316H598.8M592.6 323.5H598.8M604.05 318V349.3M600.95 318H607.15M600.95 349.3H607.15M612.4 301.3V325.3M609.3 301.3H615.5M609.3 325.3H615.5M629.1 325V336.2M626 325H632.2M626 336.2H632.2M637.45 314.2V332.2M634.35 314.2H640.55M634.35 332.2H640.55M645.8 314.2V346.3M642.7 314.2H648.9M642.7 346.3H648.9" stroke="#ababab" stroke-width="0.85" fill="none" opacity="0.92"/>
<polyline points="545.6,328 553.95,280.5 562.3,296.3 570.65,296.7 579,303.8 587.35,302.2 595.7,321.3 604.05,334.2 612.4,313 629.1,330.5 637.45,323.3 645.8,330.5" fill="none" stroke="#ababab" stroke-width="1.1"/>
<circle cx="545.6" cy="328" r="2.8" fill="#ababab"/>
<circle cx="553.95" cy="280.5" r="2.8" fill="#ababab"/>
<circle cx="562.3" cy="296.3" r="2.8" fill="#ababab"/>
<circle cx="570.65" cy="296.7" r="2.8" fill="#ababab"/>
<circle cx="579" cy="303.8" r="2.8" fill="#ababab"/>
<circle cx="587.35" cy="302.2" r="2.8" fill="#ababab"/>
<circle cx="595.7" cy="321.3" r="2.8" fill="#ababab"/>
<circle cx="604.05" cy="334.2" r="2.8" fill="#ababab"/>
<circle cx="612.4" cy="313" r="2.8" fill="#ababab"/>
<circle cx="629.1" cy="330.5" r="2.8" fill="#ababab"/>
<circle cx="637.45" cy="323.3" r="2.8" fill="#ababab"/>
<circle cx="645.8" cy="330.5" r="2.8" fill="#ababab"/>
<path d="M545.6 282.5V287.2M542.5 282.5H548.7M542.5 287.2H548.7M553.95 301.7V315.3M550.85 301.7H557.05M550.85 315.3H557.05M562.3 304.2V319.5M559.2 304.2H565.4M559.2 319.5H565.4M570.65 308.7V321.3M567.55 308.7H573.75M567.55 321.3H573.75M579 313.3V329.5M575.9 313.3H582.1M575.9 329.5H582.1M587.35 314.5V325.3M584.25 314.5H590.45M584.25 325.3H590.45M595.7 315.8V324.2M592.6 315.8H598.8M592.6 324.2H598.8M604.05 320.3V331.2M600.95 320.3H607.15M600.95 331.2H607.15M612.4 334.2V354.3M609.3 334.2H615.5M609.3 354.3H615.5M629.1 324.5V346.3M626 324.5H632.2M626 346.3H632.2M637.45 302.2V324.5M634.35 302.2H640.55M634.35 324.5H640.55M645.8 304.2V334.5M642.7 304.2H648.9M642.7 334.5H648.9" stroke="#352a8c" stroke-width="0.85" fill="none" opacity="0.92"/>
<polyline points="545.6,284.7 553.95,308.3 562.3,312 570.65,315.3 579,321.3 587.35,320.5 595.7,320.5 604.05,326.3 612.4,344.2 629.1,335.5 637.45,313 645.8,319.3" fill="none" stroke="#352a8c" stroke-width="1.1"/>
<circle cx="545.6" cy="284.7" r="2.8" fill="#352a8c"/>
<circle cx="553.95" cy="308.3" r="2.8" fill="#352a8c"/>
<circle cx="562.3" cy="312" r="2.8" fill="#352a8c"/>
<circle cx="570.65" cy="315.3" r="2.8" fill="#352a8c"/>
<circle cx="579" cy="321.3" r="2.8" fill="#352a8c"/>
<circle cx="587.35" cy="320.5" r="2.8" fill="#352a8c"/>
<circle cx="595.7" cy="320.5" r="2.8" fill="#352a8c"/>
<circle cx="604.05" cy="326.3" r="2.8" fill="#352a8c"/>
<circle cx="612.4" cy="344.2" r="2.8" fill="#352a8c"/>
<circle cx="629.1" cy="335.5" r="2.8" fill="#352a8c"/>
<circle cx="637.45" cy="313" r="2.8" fill="#352a8c"/>
<circle cx="645.8" cy="319.3" r="2.8" fill="#352a8c"/>
<line x1="539.3" y1="250" x2="539.3" y2="378.5" stroke="#111" stroke-width="1" shape-rendering="crispEdges"/>
<line x1="534.7" y1="378" x2="653" y2="378" stroke="#111" stroke-width="1" shape-rendering="crispEdges"/>
<line x1="534.7" y1="250.5" x2="539.3" y2="250.5" stroke="#000" stroke-width="1"/>
<text transform="translate(530 253.65) scale(1.21 1)" font-size="8.7" text-anchor="end" stroke="#1a1a1a" stroke-width="0.1">40</text>
<line x1="534.7" y1="276.2" x2="539.3" y2="276.2" stroke="#000" stroke-width="1"/>
<text transform="translate(530 279.35) scale(1.21 1)" font-size="8.7" text-anchor="end" stroke="#1a1a1a" stroke-width="0.1">20</text>
<line x1="534.7" y1="301.5" x2="539.3" y2="301.5" stroke="#000" stroke-width="1"/>
<text transform="translate(530 304.65) scale(1.21 1)" font-size="8.7" text-anchor="end" stroke="#1a1a1a" stroke-width="0.1">0</text>
<line x1="534.7" y1="327" x2="539.3" y2="327" stroke="#000" stroke-width="1"/>
<text transform="translate(530 330.15) scale(1.21 1)" font-size="8.7" text-anchor="end" stroke="#1a1a1a" stroke-width="0.1">–20</text>
<line x1="534.7" y1="352.5" x2="539.3" y2="352.5" stroke="#000" stroke-width="1"/>
<text transform="translate(530 355.65) scale(1.21 1)" font-size="8.7" text-anchor="end" stroke="#1a1a1a" stroke-width="0.1">–40</text>
<text transform="translate(530 381.15) scale(1.21 1)" font-size="8.7" text-anchor="end" stroke="#1a1a1a" stroke-width="0.1">–60</text>
<line x1="545.6" y1="378" x2="545.6" y2="382.6" stroke="#000" stroke-width="1"/>
<text transform="translate(545.6 393.5) scale(1.21 1)" font-size="8.7" text-anchor="middle" stroke="#1a1a1a" stroke-width="0.1">–2</text>
<line x1="562.3" y1="378" x2="562.3" y2="382.6" stroke="#000" stroke-width="1"/>
<text transform="translate(562.3 393.5) scale(1.21 1)" font-size="8.7" text-anchor="middle" stroke="#1a1a1a" stroke-width="0.1">0</text>
<line x1="579" y1="378" x2="579" y2="382.6" stroke="#000" stroke-width="1"/>
<text transform="translate(579 393.5) scale(1.21 1)" font-size="8.7" text-anchor="middle" stroke="#1a1a1a" stroke-width="0.1">2</text>
<line x1="595.7" y1="378" x2="595.7" y2="382.6" stroke="#000" stroke-width="1"/>
<text transform="translate(595.7 393.5) scale(1.21 1)" font-size="8.7" text-anchor="middle" stroke="#1a1a1a" stroke-width="0.1">4</text>
<line x1="612.4" y1="378" x2="612.4" y2="382.6" stroke="#000" stroke-width="1"/>
<text transform="translate(612.4 393.5) scale(1.21 1)" font-size="8.7" text-anchor="middle" stroke="#1a1a1a" stroke-width="0.1">6</text>
<line x1="629.1" y1="378" x2="629.1" y2="382.6" stroke="#000" stroke-width="1"/>
<text transform="translate(629.1 393.5) scale(1.21 1)" font-size="8.7" text-anchor="middle" stroke="#1a1a1a" stroke-width="0.1">8</text>
<line x1="645.8" y1="378" x2="645.8" y2="382.6" stroke="#000" stroke-width="1"/>
<text transform="translate(645.8 393.5) scale(1.21 1)" font-size="8.7" text-anchor="middle" stroke="#1a1a1a" stroke-width="0.1">10</text>
<text transform="translate(598 409.9) scale(1.21 1)" font-size="10.3" text-anchor="middle" stroke="#1a1a1a" stroke-width="0.1">Time (weeks)</text>
<text transform="translate(505 314) rotate(-90) scale(1 1)" font-size="11.3" text-anchor="middle" stroke="#1a1a1a" stroke-width="0.1">Change from baseline (%)</text>
</g>
<text transform="translate(665.3 213.3) scale(1.28 1)" font-size="13.4" font-weight="bold" fill="#000" stroke="#000" stroke-width="0.35">h</text>
<text transform="translate(939 214.5) scale(1.25 1)" font-size="10.3" text-anchor="middle" stroke="#1a1a1a" stroke-width="0.1">Blood glucose</text>
<g>
<path d="M745.2 256.2L802.3 256.2L802.3 249.2Z" fill="#bdbdbd"/>
<line x1="740.5" y1="248.5" x2="740.5" y2="377.3" stroke="#333" stroke-width="1" stroke-dasharray="5.5 2.2"/>
<line x1="807.8" y1="248.5" x2="807.8" y2="377.3" stroke="#5e5e5e" stroke-width="1.6" stroke-dasharray="5.5 2.2"/>
<path d="M719.74 322.8V336.2M716.64 322.8H722.84M716.64 336.2H722.84M728.12 326.7V335.3M725.02 326.7H731.22M725.02 335.3H731.22M736.5 332.2V343.3M733.4 332.2H739.6M733.4 343.3H739.6M744.88 332.5V342.2M741.78 332.5H747.98M741.78 342.2H747.98M753.26 327.3V340.7M750.16 327.3H756.36M750.16 340.7H756.36M761.64 328.3V336.2M758.54 328.3H764.74M758.54 336.2H764.74M770.02 333.3V342.2M766.92 333.3H773.12M766.92 342.2H773.12M778.4 336.2V350.3M775.3 336.2H781.5M775.3 350.3H781.5M786.78 327.3V337.3M783.68 327.3H789.88M783.68 337.3H789.88M803.54 338.3V344.2M800.44 338.3H806.64M800.44 344.2H806.64M811.92 327.5V332.5M808.82 327.5H815.02M808.82 332.5H815.02M820.3 331.8V344.5M817.2 331.8H823.4M817.2 344.5H823.4" stroke="#ababab" stroke-width="0.85" fill="none" opacity="0.92"/>
<polyline points="719.74,329.7 728.12,331 736.5,338.3 744.88,337.5 753.26,334.3 761.64,332.2 770.02,337.5 778.4,343.3 786.78,332.2 803.54,341.2 811.92,330 820.3,338.3" fill="none" stroke="#ababab" stroke-width="1.1"/>
<circle cx="719.74" cy="329.7" r="2.8" fill="#ababab"/>
<circle cx="728.12" cy="331" r="2.8" fill="#ababab"/>
<circle cx="736.5" cy="338.3" r="2.8" fill="#ababab"/>
<circle cx="744.88" cy="337.5" r="2.8" fill="#ababab"/>
<circle cx="753.26" cy="334.3" r="2.8" fill="#ababab"/>
<circle cx="761.64" cy="332.2" r="2.8" fill="#ababab"/>
<circle cx="770.02" cy="337.5" r="2.8" fill="#ababab"/>
<circle cx="778.4" cy="343.3" r="2.8" fill="#ababab"/>
<circle cx="786.78" cy="332.2" r="2.8" fill="#ababab"/>
<circle cx="803.54" cy="341.2" r="2.8" fill="#ababab"/>
<circle cx="811.92" cy="330" r="2.8" fill="#ababab"/>
<circle cx="820.3" cy="338.3" r="2.8" fill="#ababab"/>
<path d="M719.74 277.3V308.3M716.64 277.3H722.84M716.64 308.3H722.84M728.12 268.3V306.3M725.02 268.3H731.22M725.02 306.3H731.22M736.5 275.2V310.2M733.4 275.2H739.6M733.4 310.2H739.6M744.88 286.7V318.3M741.78 286.7H747.98M741.78 318.3H747.98M753.26 286.3V320.7M750.16 286.3H756.36M750.16 320.7H756.36M761.64 276.3V310.2M758.54 276.3H764.74M758.54 310.2H764.74M770.02 294.3V326.3M766.92 294.3H773.12M766.92 326.3H773.12M778.4 308.2V337.3M775.3 308.2H781.5M775.3 337.3H781.5M786.78 307V334.5M783.68 307H789.88M783.68 334.5H789.88M803.54 306.5V332.2M800.44 306.5H806.64M800.44 332.2H806.64M811.92 296.2V323M808.82 296.2H815.02M808.82 323H815.02M820.3 308.2V323.3M817.2 308.2H823.4M817.2 323.3H823.4" stroke="#352a8c" stroke-width="0.85" fill="none" opacity="0.92"/>
<polyline points="719.74,293.3 728.12,287.7 736.5,292.7 744.88,302.8 753.26,303.5 761.64,293.3 770.02,310.5 778.4,322.8 786.78,320.7 803.54,319.7 811.92,309.5 820.3,316.3" fill="none" stroke="#352a8c" stroke-width="1.1"/>
<circle cx="719.74" cy="293.3" r="2.8" fill="#352a8c"/>
<circle cx="728.12" cy="287.7" r="2.8" fill="#352a8c"/>
<circle cx="736.5" cy="292.7" r="2.8" fill="#352a8c"/>
<circle cx="744.88" cy="302.8" r="2.8" fill="#352a8c"/>
<circle cx="753.26" cy="303.5" r="2.8" fill="#352a8c"/>
<circle cx="761.64" cy="293.3" r="2.8" fill="#352a8c"/>
<circle cx="770.02" cy="310.5" r="2.8" fill="#352a8c"/>
<circle cx="778.4" cy="322.8" r="2.8" fill="#352a8c"/>
<circle cx="786.78" cy="320.7" r="2.8" fill="#352a8c"/>
<circle cx="803.54" cy="319.7" r="2.8" fill="#352a8c"/>
<circle cx="811.92" cy="309.5" r="2.8" fill="#352a8c"/>
<circle cx="820.3" cy="316.3" r="2.8" fill="#352a8c"/>
<line x1="714" y1="249.5" x2="714" y2="377.8" stroke="#111" stroke-width="1" shape-rendering="crispEdges"/>
<line x1="709.4" y1="377.3" x2="828" y2="377.3" stroke="#111" stroke-width="1" shape-rendering="crispEdges"/>
<line x1="709.4" y1="250" x2="714" y2="250" stroke="#000" stroke-width="1"/>
<text transform="translate(704.7 253.15) scale(1.21 1)" font-size="8.7" text-anchor="end" stroke="#1a1a1a" stroke-width="0.1">200</text>
<line x1="709.4" y1="281.3" x2="714" y2="281.3" stroke="#000" stroke-width="1"/>
<text transform="translate(704.7 284.45) scale(1.21 1)" font-size="8.7" text-anchor="end" stroke="#1a1a1a" stroke-width="0.1">150</text>
<line x1="709.4" y1="313.3" x2="714" y2="313.3" stroke="#000" stroke-width="1"/>
<text transform="translate(704.7 316.45) scale(1.21 1)" font-size="8.7" text-anchor="end" stroke="#1a1a1a" stroke-width="0.1">100</text>
<line x1="709.4" y1="345.3" x2="714" y2="345.3" stroke="#000" stroke-width="1"/>
<text transform="translate(704.7 348.45) scale(1.21 1)" font-size="8.7" text-anchor="end" stroke="#1a1a1a" stroke-width="0.1">50</text>
<text transform="translate(704.7 380.45) scale(1.21 1)" font-size="8.7" text-anchor="end" stroke="#1a1a1a" stroke-width="0.1">0</text>
<line x1="719.74" y1="377.3" x2="719.74" y2="381.9" stroke="#000" stroke-width="1"/>
<text transform="translate(719.74 392.8) scale(1.21 1)" font-size="8.7" text-anchor="middle" stroke="#1a1a1a" stroke-width="0.1">–2</text>
<line x1="736.5" y1="377.3" x2="736.5" y2="381.9" stroke="#000" stroke-width="1"/>
<text transform="translate(736.5 392.8) scale(1.21 1)" font-size="8.7" text-anchor="middle" stroke="#1a1a1a" stroke-width="0.1">0</text>
<line x1="753.26" y1="377.3" x2="753.26" y2="381.9" stroke="#000" stroke-width="1"/>
<text transform="translate(753.26 392.8) scale(1.21 1)" font-size="8.7" text-anchor="middle" stroke="#1a1a1a" stroke-width="0.1">2</text>
<line x1="770.02" y1="377.3" x2="770.02" y2="381.9" stroke="#000" stroke-width="1"/>
<text transform="translate(770.02 392.8) scale(1.21 1)" font-size="8.7" text-anchor="middle" stroke="#1a1a1a" stroke-width="0.1">4</text>
<line x1="786.78" y1="377.3" x2="786.78" y2="381.9" stroke="#000" stroke-width="1"/>
<text transform="translate(786.78 392.8) scale(1.21 1)" font-size="8.7" text-anchor="middle" stroke="#1a1a1a" stroke-width="0.1">6</text>
<line x1="803.54" y1="377.3" x2="803.54" y2="381.9" stroke="#000" stroke-width="1"/>
<text transform="translate(803.54 392.8) scale(1.21 1)" font-size="8.7" text-anchor="middle" stroke="#1a1a1a" stroke-width="0.1">8</text>
<line x1="820.3" y1="377.3" x2="820.3" y2="381.9" stroke="#000" stroke-width="1"/>
<text transform="translate(820.3 392.8) scale(1.21 1)" font-size="8.7" text-anchor="middle" stroke="#1a1a1a" stroke-width="0.1">10</text>
<text transform="translate(772.5 409.2) scale(1.21 1)" font-size="10.3" text-anchor="middle" stroke="#1a1a1a" stroke-width="0.1">Time (weeks)</text>
<text transform="translate(675.5 313.5) rotate(-90) scale(1 1)" font-size="11.3" text-anchor="middle" stroke="#1a1a1a" stroke-width="0.1">Blood glucose (mg dl<tspan dy="-4.3" font-size="6.6" stroke="none">–1</tspan><tspan dy="4.3">)</tspan></text>
</g>
<text transform="translate(735.3 368.4) scale(1.21 1)" font-size="11.3" text-anchor="middle" >*</text>
<text transform="translate(735.3 377.8) scale(1.21 1)" font-size="11.3" text-anchor="middle" >*</text>
<text transform="translate(742.7 365.3) scale(1.21 1)" font-size="8.7" stroke="#1a1a1a" stroke-width="0.1">Dose</text>
<text transform="translate(742.7 374.7) scale(1.21 1)" font-size="8.7" stroke="#1a1a1a" stroke-width="0.1">Dose × group</text>
<g>
<path d="M914.2 256.2L971.7 256.2L971.7 248.8Z" fill="#bdbdbd"/>
<line x1="909.5" y1="248.8" x2="909.5" y2="377.2" stroke="#333" stroke-width="1" stroke-dasharray="5.5 2.2"/>
<line x1="976.5" y1="248.8" x2="976.5" y2="377.2" stroke="#333" stroke-width="1" stroke-dasharray="5.5 2.2"/>
<path d="M888.84 285.3V297.5M885.74 285.3H891.94M885.74 297.5H891.94M897.22 289.5V298.3M894.12 289.5H900.32M894.12 298.3H900.32M905.6 313.3V320.3M902.5 313.3H908.7M902.5 320.3H908.7M913.98 307.5V324.7M910.88 307.5H917.08M910.88 324.7H917.08M922.36 294.2V315.8M919.26 294.2H925.46M919.26 315.8H925.46M930.74 280.3V313.3M927.64 280.3H933.84M927.64 313.3H933.84M939.12 312.5V318.3M936.02 312.5H942.22M936.02 318.3H942.22M947.5 320.3V345.3M944.4 320.3H950.6M944.4 345.3H950.6M955.88 294.2V304.7M952.78 294.2H958.98M952.78 304.7H958.98M972.64 321.7V328.3M969.54 321.7H975.74M969.54 328.3H975.74M981.02 273.7V304.2M977.92 273.7H984.12M977.92 304.2H984.12M989.4 311.7V323.3M986.3 311.7H992.5M986.3 323.3H992.5" stroke="#ababab" stroke-width="0.85" fill="none" opacity="0.92"/>
<polyline points="888.84,291.7 897.22,294.2 905.6,317 913.98,313.3 922.36,305 930.74,297.5 939.12,315.3 947.5,333 955.88,299.5 972.64,325.3 981.02,289.2 989.4,317.5" fill="none" stroke="#ababab" stroke-width="1.1"/>
<circle cx="888.84" cy="291.7" r="2.8" fill="#ababab"/>
<circle cx="897.22" cy="294.2" r="2.8" fill="#ababab"/>
<circle cx="905.6" cy="317" r="2.8" fill="#ababab"/>
<circle cx="913.98" cy="313.3" r="2.8" fill="#ababab"/>
<circle cx="922.36" cy="305" r="2.8" fill="#ababab"/>
<circle cx="930.74" cy="297.5" r="2.8" fill="#ababab"/>
<circle cx="939.12" cy="315.3" r="2.8" fill="#ababab"/>
<circle cx="947.5" cy="333" r="2.8" fill="#ababab"/>
<circle cx="955.88" cy="299.5" r="2.8" fill="#ababab"/>
<circle cx="972.64" cy="325.3" r="2.8" fill="#ababab"/>
<circle cx="981.02" cy="289.2" r="2.8" fill="#ababab"/>
<circle cx="989.4" cy="317.5" r="2.8" fill="#ababab"/>
<path d="M888.84 299.5V308.3M885.74 299.5H891.94M885.74 308.3H891.94M897.22 293.3V303.3M894.12 293.3H900.32M894.12 303.3H900.32M905.6 294.5V307.2M902.5 294.5H908.7M902.5 307.2H908.7M913.98 311.7V321.7M910.88 311.7H917.08M910.88 321.7H917.08M922.36 315.5V325.5M919.26 315.5H925.46M919.26 325.5H925.46M930.74 293.3V306.7M927.64 293.3H933.84M927.64 306.7H933.84M939.12 320V337.2M936.02 320H942.22M936.02 337.2H942.22M947.5 342.2V359.3M944.4 342.2H950.6M944.4 359.3H950.6M955.88 336.3V352.2M952.78 336.3H958.98M952.78 352.2H958.98M972.64 328.7V349.2M969.54 328.7H975.74M969.54 349.2H975.74M981.02 325.3V340M977.92 325.3H984.12M977.92 340H984.12M989.4 322.5V337.2M986.3 322.5H992.5M986.3 337.2H992.5" stroke="#352a8c" stroke-width="0.85" fill="none" opacity="0.92"/>
<polyline points="888.84,303.8 897.22,298.3 905.6,301.2 913.98,317.8 922.36,320.8 930.74,300 939.12,328.8 947.5,350.5 955.88,344.2 972.64,339.2 981.02,333.3 989.4,330" fill="none" stroke="#352a8c" stroke-width="1.1"/>
<circle cx="888.84" cy="303.8" r="2.8" fill="#352a8c"/>
<circle cx="897.22" cy="298.3" r="2.8" fill="#352a8c"/>
<circle cx="905.6" cy="301.2" r="2.8" fill="#352a8c"/>
<circle cx="913.98" cy="317.8" r="2.8" fill="#352a8c"/>
<circle cx="922.36" cy="320.8" r="2.8" fill="#352a8c"/>
<circle cx="930.74" cy="300" r="2.8" fill="#352a8c"/>
<circle cx="939.12" cy="328.8" r="2.8" fill="#352a8c"/>
<circle cx="947.5" cy="350.5" r="2.8" fill="#352a8c"/>
<circle cx="955.88" cy="344.2" r="2.8" fill="#352a8c"/>
<circle cx="972.64" cy="339.2" r="2.8" fill="#352a8c"/>
<circle cx="981.02" cy="333.3" r="2.8" fill="#352a8c"/>
<circle cx="989.4" cy="330" r="2.8" fill="#352a8c"/>
<line x1="882.5" y1="249.8" x2="882.5" y2="377.7" stroke="#111" stroke-width="1" shape-rendering="crispEdges"/>
<line x1="877.9" y1="377.2" x2="996" y2="377.2" stroke="#111" stroke-width="1" shape-rendering="crispEdges"/>
<line x1="877.9" y1="250.3" x2="882.5" y2="250.3" stroke="#000" stroke-width="1"/>
<text transform="translate(873.2 253.45) scale(1.21 1)" font-size="8.7" text-anchor="end" stroke="#1a1a1a" stroke-width="0.1">40</text>
<line x1="877.9" y1="275.5" x2="882.5" y2="275.5" stroke="#000" stroke-width="1"/>
<text transform="translate(873.2 278.65) scale(1.21 1)" font-size="8.7" text-anchor="end" stroke="#1a1a1a" stroke-width="0.1">20</text>
<line x1="877.9" y1="301" x2="882.5" y2="301" stroke="#000" stroke-width="1"/>
<text transform="translate(873.2 304.15) scale(1.21 1)" font-size="8.7" text-anchor="end" stroke="#1a1a1a" stroke-width="0.1">0</text>
<line x1="877.9" y1="326.3" x2="882.5" y2="326.3" stroke="#000" stroke-width="1"/>
<text transform="translate(873.2 329.45) scale(1.21 1)" font-size="8.7" text-anchor="end" stroke="#1a1a1a" stroke-width="0.1">–20</text>
<line x1="877.9" y1="351.5" x2="882.5" y2="351.5" stroke="#000" stroke-width="1"/>
<text transform="translate(873.2 354.65) scale(1.21 1)" font-size="8.7" text-anchor="end" stroke="#1a1a1a" stroke-width="0.1">–40</text>
<text transform="translate(873.2 380.35) scale(1.21 1)" font-size="8.7" text-anchor="end" stroke="#1a1a1a" stroke-width="0.1">–60</text>
<line x1="888.84" y1="377.2" x2="888.84" y2="381.8" stroke="#000" stroke-width="1"/>
<text transform="translate(888.84 392.7) scale(1.21 1)" font-size="8.7" text-anchor="middle" stroke="#1a1a1a" stroke-width="0.1">–2</text>
<line x1="905.6" y1="377.2" x2="905.6" y2="381.8" stroke="#000" stroke-width="1"/>
<text transform="translate(905.6 392.7) scale(1.21 1)" font-size="8.7" text-anchor="middle" stroke="#1a1a1a" stroke-width="0.1">0</text>
<line x1="922.36" y1="377.2" x2="922.36" y2="381.8" stroke="#000" stroke-width="1"/>
<text transform="translate(922.36 392.7) scale(1.21 1)" font-size="8.7" text-anchor="middle" stroke="#1a1a1a" stroke-width="0.1">2</text>
<line x1="939.12" y1="377.2" x2="939.12" y2="381.8" stroke="#000" stroke-width="1"/>
<text transform="translate(939.12 392.7) scale(1.21 1)" font-size="8.7" text-anchor="middle" stroke="#1a1a1a" stroke-width="0.1">4</text>
<line x1="955.88" y1="377.2" x2="955.88" y2="381.8" stroke="#000" stroke-width="1"/>
<text transform="translate(955.88 392.7) scale(1.21 1)" font-size="8.7" text-anchor="middle" stroke="#1a1a1a" stroke-width="0.1">6</text>
<line x1="972.64" y1="377.2" x2="972.64" y2="381.8" stroke="#000" stroke-width="1"/>
<text transform="translate(972.64 392.7) scale(1.21 1)" font-size="8.7" text-anchor="middle" stroke="#1a1a1a" stroke-width="0.1">8</text>
<line x1="989.4" y1="377.2" x2="989.4" y2="381.8" stroke="#000" stroke-width="1"/>
<text transform="translate(989.4 392.7) scale(1.21 1)" font-size="8.7" text-anchor="middle" stroke="#1a1a1a" stroke-width="0.1">10</text>
<text transform="translate(941 409.1) scale(1.21 1)" font-size="10.3" text-anchor="middle" stroke="#1a1a1a" stroke-width="0.1">Time (weeks)</text>
<text transform="translate(846.5 314) rotate(-90) scale(1 1)" font-size="11.3" text-anchor="middle" stroke="#1a1a1a" stroke-width="0.1">Change from baseline (%)</text>
</g>
<text transform="translate(906.4 368.4) scale(1.21 1)" font-size="11.3" text-anchor="end" >***</text>
<text transform="translate(904.2 377.8) scale(1.21 1)" font-size="11.3" text-anchor="middle" >*</text>
<text transform="translate(912.8 365.3) scale(1.21 1)" font-size="8.7" stroke="#1a1a1a" stroke-width="0.1">Dose</text>
<text transform="translate(912.8 374.7) scale(1.21 1)" font-size="8.7" stroke="#1a1a1a" stroke-width="0.1">Dose × group</text>
<text transform="translate(2.6 437.7) scale(1.28 1)" font-size="13.4" font-weight="bold" fill="#000" stroke="#000" stroke-width="0.35">i</text>
<g>
<path d="M83.3 458.3L140.8 458.3L140.8 450.8Z" fill="#bdbdbd"/>
<line x1="78.5" y1="451" x2="78.5" y2="579.4" stroke="#333" stroke-width="1" stroke-dasharray="5.5 2.2"/>
<line x1="145.5" y1="451" x2="145.5" y2="579.4" stroke="#333" stroke-width="1" stroke-dasharray="5.5 2.2"/>
<path d="M57.5 558.3V568M54.4 558.3H60.6M54.4 568H60.6M65.9 569.3V572.3M62.8 569.3H69M62.8 572.3H69M74.3 565.3V572.5M71.2 565.3H77.4M71.2 572.5H77.4M82.7 567.5V571.5M79.6 567.5H85.8M79.6 571.5H85.8M91.1 563.3V572.5M88 563.3H94.2M88 572.5H94.2M99.5 561.3V572.5M96.4 561.3H102.6M96.4 572.5H102.6M107.9 565.8V570.8M104.8 565.8H111M104.8 570.8H111M116.3 557.5V566.7M113.2 557.5H119.4M113.2 566.7H119.4M124.7 565V572.5M121.6 565H127.8M121.6 572.5H127.8M141.5 570.5V574.5M138.4 570.5H144.6M138.4 574.5H144.6M149.9 560.3V574.2M146.8 560.3H153M146.8 574.2H153M158.3 557.5V567.5M155.2 557.5H161.4M155.2 567.5H161.4" stroke="#ababab" stroke-width="0.85" fill="none" opacity="0.92"/>
<polyline points="57.5,563.3 65.9,570.8 74.3,569.2 82.7,569.5 91.1,568 99.5,567.2 107.9,568.3 116.3,562.5 124.7,569.2 141.5,572.5 149.9,567.5 158.3,562.8" fill="none" stroke="#ababab" stroke-width="1.1"/>
<circle cx="57.5" cy="563.3" r="2.8" fill="#ababab"/>
<circle cx="65.9" cy="570.8" r="2.8" fill="#ababab"/>
<circle cx="74.3" cy="569.2" r="2.8" fill="#ababab"/>
<circle cx="82.7" cy="569.5" r="2.8" fill="#ababab"/>
<circle cx="91.1" cy="568" r="2.8" fill="#ababab"/>
<circle cx="99.5" cy="567.2" r="2.8" fill="#ababab"/>
<circle cx="107.9" cy="568.3" r="2.8" fill="#ababab"/>
<circle cx="116.3" cy="562.5" r="2.8" fill="#ababab"/>
<circle cx="124.7" cy="569.2" r="2.8" fill="#ababab"/>
<circle cx="141.5" cy="572.5" r="2.8" fill="#ababab"/>
<circle cx="149.9" cy="567.5" r="2.8" fill="#ababab"/>
<circle cx="158.3" cy="562.8" r="2.8" fill="#ababab"/>
<path d="M57.5 470.3V545.5M54.4 470.3H60.6M54.4 545.5H60.6M65.9 480.3V541.3M62.8 480.3H69M62.8 541.3H69M74.3 483.3V542.5M71.2 483.3H77.4M71.2 542.5H77.4M82.7 494.2V552.5M79.6 494.2H85.8M79.6 552.5H85.8M91.1 492V550.3M88 492H94.2M88 550.3H94.2M99.5 493.3V549.3M96.4 493.3H102.6M96.4 549.3H102.6M107.9 532.2V562.5M104.8 532.2H111M104.8 562.5H111M116.3 535V564M113.2 535H119.4M113.2 564H119.4M124.7 555.3V567.5M121.6 555.3H127.8M121.6 567.5H127.8M141.5 540V566.3M138.4 540H144.6M138.4 566.3H144.6M149.9 509.2V553.3M146.8 509.2H153M146.8 553.3H153M158.3 502.2V545.3M155.2 502.2H161.4M155.2 545.3H161.4" stroke="#352a8c" stroke-width="0.85" fill="none" opacity="0.92"/>
<polyline points="57.5,508 65.9,510.8 74.3,513.3 82.7,523.3 91.1,521.2 99.5,521.2 107.9,547.5 116.3,549.2 124.7,561.2 141.5,553.3 149.9,531.3 158.3,523.3" fill="none" stroke="#352a8c" stroke-width="1.1"/>
<circle cx="57.5" cy="508" r="2.8" fill="#352a8c"/>
<circle cx="65.9" cy="510.8" r="2.8" fill="#352a8c"/>
<circle cx="74.3" cy="513.3" r="2.8" fill="#352a8c"/>
<circle cx="82.7" cy="523.3" r="2.8" fill="#352a8c"/>
<circle cx="91.1" cy="521.2" r="2.8" fill="#352a8c"/>
<circle cx="99.5" cy="521.2" r="2.8" fill="#352a8c"/>
<circle cx="107.9" cy="547.5" r="2.8" fill="#352a8c"/>
<circle cx="116.3" cy="549.2" r="2.8" fill="#352a8c"/>
<circle cx="124.7" cy="561.2" r="2.8" fill="#352a8c"/>
<circle cx="141.5" cy="553.3" r="2.8" fill="#352a8c"/>
<circle cx="149.9" cy="531.3" r="2.8" fill="#352a8c"/>
<circle cx="158.3" cy="523.3" r="2.8" fill="#352a8c"/>
<line x1="50.8" y1="452" x2="50.8" y2="579.9" stroke="#111" stroke-width="1" shape-rendering="crispEdges"/>
<line x1="46.2" y1="579.4" x2="165.7" y2="579.4" stroke="#111" stroke-width="1" shape-rendering="crispEdges"/>
<line x1="46.2" y1="452.5" x2="50.8" y2="452.5" stroke="#000" stroke-width="1"/>
<text transform="translate(41.5 455.65) scale(1.21 1)" font-size="8.7" text-anchor="end" stroke="#1a1a1a" stroke-width="0.1">600</text>
<line x1="46.2" y1="495" x2="50.8" y2="495" stroke="#000" stroke-width="1"/>
<text transform="translate(41.5 498.15) scale(1.21 1)" font-size="8.7" text-anchor="end" stroke="#1a1a1a" stroke-width="0.1">400</text>
<line x1="46.2" y1="537.2" x2="50.8" y2="537.2" stroke="#000" stroke-width="1"/>
<text transform="translate(41.5 540.35) scale(1.21 1)" font-size="8.7" text-anchor="end" stroke="#1a1a1a" stroke-width="0.1">200</text>
<text transform="translate(41.5 582.55) scale(1.21 1)" font-size="8.7" text-anchor="end" stroke="#1a1a1a" stroke-width="0.1">0</text>
<line x1="57.5" y1="579.4" x2="57.5" y2="584" stroke="#000" stroke-width="1"/>
<text transform="translate(57.5 594.9) scale(1.21 1)" font-size="8.7" text-anchor="middle" stroke="#1a1a1a" stroke-width="0.1">–2</text>
<line x1="74.3" y1="579.4" x2="74.3" y2="584" stroke="#000" stroke-width="1"/>
<text transform="translate(74.3 594.9) scale(1.21 1)" font-size="8.7" text-anchor="middle" stroke="#1a1a1a" stroke-width="0.1">0</text>
<line x1="91.1" y1="579.4" x2="91.1" y2="584" stroke="#000" stroke-width="1"/>
<text transform="translate(91.1 594.9) scale(1.21 1)" font-size="8.7" text-anchor="middle" stroke="#1a1a1a" stroke-width="0.1">2</text>
<line x1="107.9" y1="579.4" x2="107.9" y2="584" stroke="#000" stroke-width="1"/>
<text transform="translate(107.9 594.9) scale(1.21 1)" font-size="8.7" text-anchor="middle" stroke="#1a1a1a" stroke-width="0.1">4</text>
<line x1="124.7" y1="579.4" x2="124.7" y2="584" stroke="#000" stroke-width="1"/>
<text transform="translate(124.7 594.9) scale(1.21 1)" font-size="8.7" text-anchor="middle" stroke="#1a1a1a" stroke-width="0.1">6</text>
<line x1="141.5" y1="579.4" x2="141.5" y2="584" stroke="#000" stroke-width="1"/>
<text transform="translate(141.5 594.9) scale(1.21 1)" font-size="8.7" text-anchor="middle" stroke="#1a1a1a" stroke-width="0.1">8</text>
<line x1="158.3" y1="579.4" x2="158.3" y2="584" stroke="#000" stroke-width="1"/>
<text transform="translate(158.3 594.9) scale(1.21 1)" font-size="8.7" text-anchor="middle" stroke="#1a1a1a" stroke-width="0.1">10</text>
<text transform="translate(109.7 611.3) scale(1.21 1)" font-size="10.3" text-anchor="middle" stroke="#1a1a1a" stroke-width="0.1">Time (weeks)</text>
<text transform="translate(14.3 516) rotate(-90) scale(1 1)" font-size="11.3" text-anchor="middle" stroke="#1a1a1a" stroke-width="0.1">Insulin (µU ml<tspan dy="-4.3" font-size="6.6" stroke="none">–1</tspan><tspan dy="4.3">)</tspan></text>
</g>
<text transform="translate(295 443.2) scale(1.25 1)" font-size="10.3" text-anchor="middle" stroke="#1a1a1a" stroke-width="0.1">Insulin</text>
<g>
<path d="M270.8 458.3L328 458.3L328 451Z" fill="#bdbdbd"/>
<line x1="266" y1="451.5" x2="266" y2="579.6" stroke="#5e5e5e" stroke-width="1.6" stroke-dasharray="5.5 2.2"/>
<line x1="332.5" y1="451.5" x2="332.5" y2="579.6" stroke="#333" stroke-width="1" stroke-dasharray="5.5 2.2"/>
<path d="M245.04 501.7V524.2M241.94 501.7H248.14M241.94 524.2H248.14M253.37 534.2V545.3M250.27 534.2H256.47M250.27 545.3H256.47M261.7 528.3V542M258.6 528.3H264.8M258.6 542H264.8M270.03 507.5V551.3M266.93 507.5H273.13M266.93 551.3H273.13M278.36 518.3V545.3M275.26 518.3H281.46M275.26 545.3H281.46M286.69 514.5V541.2M283.59 514.5H289.79M283.59 541.2H289.79M295.02 516.7V539.5M291.92 516.7H298.12M291.92 539.5H298.12M303.35 471.2V521.3M300.25 471.2H306.45M300.25 521.3H306.45M311.68 524.5V544.5M308.58 524.5H314.78M308.58 544.5H314.78M328.34 546.7V552.5M325.24 546.7H331.44M325.24 552.5H331.44M336.67 520.5V550M333.57 520.5H339.77M333.57 550H339.77M345 494.2V526.7M341.9 494.2H348.1M341.9 526.7H348.1" stroke="#ababab" stroke-width="0.85" fill="none" opacity="0.92"/>
<polyline points="245.04,512.8 253.37,539.5 261.7,535 270.03,529.5 278.36,530.8 286.69,527.8 295.02,527.8 303.35,496.2 311.68,534.5 328.34,549.5 336.67,535.3 345,510.3" fill="none" stroke="#ababab" stroke-width="1.1"/>
<circle cx="245.04" cy="512.8" r="2.8" fill="#ababab"/>
<circle cx="253.37" cy="539.5" r="2.8" fill="#ababab"/>
<circle cx="261.7" cy="535" r="2.8" fill="#ababab"/>
<circle cx="270.03" cy="529.5" r="2.8" fill="#ababab"/>
<circle cx="278.36" cy="530.8" r="2.8" fill="#ababab"/>
<circle cx="286.69" cy="527.8" r="2.8" fill="#ababab"/>
<circle cx="295.02" cy="527.8" r="2.8" fill="#ababab"/>
<circle cx="303.35" cy="496.2" r="2.8" fill="#ababab"/>
<circle cx="311.68" cy="534.5" r="2.8" fill="#ababab"/>
<circle cx="328.34" cy="549.5" r="2.8" fill="#ababab"/>
<circle cx="336.67" cy="535.3" r="2.8" fill="#ababab"/>
<circle cx="345" cy="510.3" r="2.8" fill="#ababab"/>
<path d="M245.04 513.3V530.5M241.94 513.3H248.14M241.94 530.5H248.14M253.37 526.7V535.8M250.27 526.7H256.47M250.27 535.8H256.47M261.7 530.8V539.5M258.6 530.8H264.8M258.6 539.5H264.8M270.03 537.5V543.3M266.93 537.5H273.13M266.93 543.3H273.13M278.36 522.5V539.5M275.26 522.5H281.46M275.26 539.5H281.46M286.69 534.5V542.2M283.59 534.5H289.79M283.59 542.2H289.79M295.02 543.7V553.7M291.92 543.7H298.12M291.92 553.7H298.12M303.35 538.7V553.7M300.25 538.7H306.45M300.25 553.7H306.45M311.68 551.2V560.8M308.58 551.2H314.78M308.58 560.8H314.78M328.34 553.3V561.2M325.24 553.3H331.44M325.24 561.2H331.44M336.67 541.2V550.3M333.57 541.2H339.77M333.57 550.3H339.77M345 533.3V541.7M341.9 533.3H348.1M341.9 541.7H348.1" stroke="#352a8c" stroke-width="0.85" fill="none" opacity="0.92"/>
<polyline points="245.04,522.2 253.37,531.2 261.7,535.3 270.03,540.5 278.36,531.2 286.69,538.8 295.02,548.7 303.35,546.2 311.68,556.2 328.34,557.8 336.67,546 345,537.8" fill="none" stroke="#352a8c" stroke-width="1.1"/>
<circle cx="245.04" cy="522.2" r="2.8" fill="#352a8c"/>
<circle cx="253.37" cy="531.2" r="2.8" fill="#352a8c"/>
<circle cx="261.7" cy="535.3" r="2.8" fill="#352a8c"/>
<circle cx="270.03" cy="540.5" r="2.8" fill="#352a8c"/>
<circle cx="278.36" cy="531.2" r="2.8" fill="#352a8c"/>
<circle cx="286.69" cy="538.8" r="2.8" fill="#352a8c"/>
<circle cx="295.02" cy="548.7" r="2.8" fill="#352a8c"/>
<circle cx="303.35" cy="546.2" r="2.8" fill="#352a8c"/>
<circle cx="311.68" cy="556.2" r="2.8" fill="#352a8c"/>
<circle cx="328.34" cy="557.8" r="2.8" fill="#352a8c"/>
<circle cx="336.67" cy="546" r="2.8" fill="#352a8c"/>
<circle cx="345" cy="537.8" r="2.8" fill="#352a8c"/>
<line x1="238.3" y1="452.5" x2="238.3" y2="580.1" stroke="#111" stroke-width="1" shape-rendering="crispEdges"/>
<line x1="233.7" y1="579.6" x2="352" y2="579.6" stroke="#111" stroke-width="1" shape-rendering="crispEdges"/>
<line x1="233.7" y1="453" x2="238.3" y2="453" stroke="#000" stroke-width="1"/>
<text transform="translate(229 456.15) scale(1.21 1)" font-size="8.7" text-anchor="end" stroke="#1a1a1a" stroke-width="0.1">150</text>
<line x1="233.7" y1="478.3" x2="238.3" y2="478.3" stroke="#000" stroke-width="1"/>
<text transform="translate(229 481.45) scale(1.21 1)" font-size="8.7" text-anchor="end" stroke="#1a1a1a" stroke-width="0.1">100</text>
<line x1="233.7" y1="503.7" x2="238.3" y2="503.7" stroke="#000" stroke-width="1"/>
<text transform="translate(229 506.85) scale(1.21 1)" font-size="8.7" text-anchor="end" stroke="#1a1a1a" stroke-width="0.1">50</text>
<line x1="233.7" y1="529.2" x2="238.3" y2="529.2" stroke="#000" stroke-width="1"/>
<text transform="translate(229 532.35) scale(1.21 1)" font-size="8.7" text-anchor="end" stroke="#1a1a1a" stroke-width="0.1">0</text>
<line x1="233.7" y1="554.5" x2="238.3" y2="554.5" stroke="#000" stroke-width="1"/>
<text transform="translate(229 557.65) scale(1.21 1)" font-size="8.7" text-anchor="end" stroke="#1a1a1a" stroke-width="0.1">–50</text>
<text transform="translate(229 582.75) scale(1.21 1)" font-size="8.7" text-anchor="end" stroke="#1a1a1a" stroke-width="0.1">–100</text>
<line x1="245.04" y1="579.6" x2="245.04" y2="584.2" stroke="#000" stroke-width="1"/>
<text transform="translate(245.04 595.1) scale(1.21 1)" font-size="8.7" text-anchor="middle" stroke="#1a1a1a" stroke-width="0.1">–2</text>
<line x1="261.7" y1="579.6" x2="261.7" y2="584.2" stroke="#000" stroke-width="1"/>
<text transform="translate(261.7 595.1) scale(1.21 1)" font-size="8.7" text-anchor="middle" stroke="#1a1a1a" stroke-width="0.1">0</text>
<line x1="278.36" y1="579.6" x2="278.36" y2="584.2" stroke="#000" stroke-width="1"/>
<text transform="translate(278.36 595.1) scale(1.21 1)" font-size="8.7" text-anchor="middle" stroke="#1a1a1a" stroke-width="0.1">2</text>
<line x1="295.02" y1="579.6" x2="295.02" y2="584.2" stroke="#000" stroke-width="1"/>
<text transform="translate(295.02 595.1) scale(1.21 1)" font-size="8.7" text-anchor="middle" stroke="#1a1a1a" stroke-width="0.1">4</text>
<line x1="311.68" y1="579.6" x2="311.68" y2="584.2" stroke="#000" stroke-width="1"/>
<text transform="translate(311.68 595.1) scale(1.21 1)" font-size="8.7" text-anchor="middle" stroke="#1a1a1a" stroke-width="0.1">6</text>
<line x1="328.34" y1="579.6" x2="328.34" y2="584.2" stroke="#000" stroke-width="1"/>
<text transform="translate(328.34 595.1) scale(1.21 1)" font-size="8.7" text-anchor="middle" stroke="#1a1a1a" stroke-width="0.1">8</text>
<line x1="345" y1="579.6" x2="345" y2="584.2" stroke="#000" stroke-width="1"/>
<text transform="translate(345 595.1) scale(1.21 1)" font-size="8.7" text-anchor="middle" stroke="#1a1a1a" stroke-width="0.1">10</text>
<text transform="translate(296 611.5) scale(1.21 1)" font-size="10.3" text-anchor="middle" stroke="#1a1a1a" stroke-width="0.1">Time (weeks)</text>
<text transform="translate(196.5 516) rotate(-90) scale(1 1)" font-size="11.3" text-anchor="middle" stroke="#1a1a1a" stroke-width="0.1">Change from baseline (%)</text>
</g>
<text transform="translate(261.2 579.4) scale(1.21 1)" font-size="11.3" text-anchor="middle" >*</text>
<text transform="translate(268 576.4) scale(1.21 1)" font-size="8.7" stroke="#1a1a1a" stroke-width="0.1">Group</text>
<text transform="translate(399.8 437.1) scale(1.28 1)" font-size="13.4" font-weight="bold" fill="#000" stroke="#000" stroke-width="0.35">j</text>
<g>
<path d="M479.8 458.3L537.2 458.3L537.2 451.2Z" fill="#bdbdbd"/>
<line x1="475.5" y1="452.7" x2="475.5" y2="579.5" stroke="#333" stroke-width="1" stroke-dasharray="5.5 2.2"/>
<line x1="541.5" y1="452.7" x2="541.5" y2="579.5" stroke="#333" stroke-width="1" stroke-dasharray="5.5 2.2"/>
<path d="M454.34 567.5V572.5M451.24 567.5H457.44M451.24 572.5H457.44M462.67 573.6V576.4M459.57 573.6H465.77M459.57 576.4H465.77M471 572.7V575.7M467.9 572.7H474.1M467.9 575.7H474.1M479.33 573.6V576.4M476.23 573.6H482.43M476.23 576.4H482.43M487.66 570.5V575.5M484.56 570.5H490.76M484.56 575.5H490.76M495.99 570V575M492.89 570H499.09M492.89 575H499.09M504.32 571.5V575M501.22 571.5H507.42M501.22 575H507.42M512.65 571V574.6M509.55 571H515.75M509.55 574.6H515.75M520.98 571.5V575M517.88 571.5H524.08M517.88 575H524.08M537.64 575.5V578M534.54 575.5H540.74M534.54 578H540.74M545.97 571.8V575.8M542.87 571.8H549.07M542.87 575.8H549.07M554.3 570.5V575M551.2 570.5H557.4M551.2 575H557.4" stroke="#ababab" stroke-width="0.85" fill="none" opacity="0.92"/>
<polyline points="454.34,569.7 462.67,575 471,574.2 479.33,575 487.66,573 495.99,572.5 504.32,573.3 512.65,572.8 520.98,573.3 537.64,576.7 545.97,573.8 554.3,572.7" fill="none" stroke="#ababab" stroke-width="1.1"/>
<circle cx="454.34" cy="569.7" r="2.8" fill="#ababab"/>
<circle cx="462.67" cy="575" r="2.8" fill="#ababab"/>
<circle cx="471" cy="574.2" r="2.8" fill="#ababab"/>
<circle cx="479.33" cy="575" r="2.8" fill="#ababab"/>
<circle cx="487.66" cy="573" r="2.8" fill="#ababab"/>
<circle cx="495.99" cy="572.5" r="2.8" fill="#ababab"/>
<circle cx="504.32" cy="573.3" r="2.8" fill="#ababab"/>
<circle cx="512.65" cy="572.8" r="2.8" fill="#ababab"/>
<circle cx="520.98" cy="573.3" r="2.8" fill="#ababab"/>
<circle cx="537.64" cy="576.7" r="2.8" fill="#ababab"/>
<circle cx="545.97" cy="573.8" r="2.8" fill="#ababab"/>
<circle cx="554.3" cy="572.7" r="2.8" fill="#ababab"/>
<path d="M454.34 463.3V552.5M451.24 463.3H457.44M451.24 552.5H457.44M462.67 483.8V553M459.57 483.8H465.77M459.57 553H465.77M471 499.5V550.8M467.9 499.5H474.1M467.9 550.8H474.1M479.33 502.2V563.3M476.23 502.2H482.43M476.23 563.3H482.43M487.66 505.3V557.5M484.56 505.3H490.76M484.56 557.5H490.76M495.99 504.2V555.3M492.89 504.2H499.09M492.89 555.3H499.09M504.32 550.5V568.3M501.22 550.5H507.42M501.22 568.3H507.42M512.65 560.3V570M509.55 560.3H515.75M509.55 570H515.75M520.98 565.3V570.5M517.88 565.3H524.08M517.88 570.5H524.08M537.64 560.3V572.5M534.54 560.3H540.74M534.54 572.5H540.74M545.97 540.3V565.3M542.87 540.3H549.07M542.87 565.3H549.07M554.3 537.2V559.7M551.2 537.2H557.4M551.2 559.7H557.4" stroke="#352a8c" stroke-width="0.85" fill="none" opacity="0.92"/>
<polyline points="454.34,507.8 462.67,518.3 471,525.3 479.33,532.8 487.66,531.7 495.99,530 504.32,559.7 512.65,565 520.98,568 537.64,566.7 545.97,553.3 554.3,548.7" fill="none" stroke="#352a8c" stroke-width="1.1"/>
<circle cx="454.34" cy="507.8" r="2.8" fill="#352a8c"/>
<circle cx="462.67" cy="518.3" r="2.8" fill="#352a8c"/>
<circle cx="471" cy="525.3" r="2.8" fill="#352a8c"/>
<circle cx="479.33" cy="532.8" r="2.8" fill="#352a8c"/>
<circle cx="487.66" cy="531.7" r="2.8" fill="#352a8c"/>
<circle cx="495.99" cy="530" r="2.8" fill="#352a8c"/>
<circle cx="504.32" cy="559.7" r="2.8" fill="#352a8c"/>
<circle cx="512.65" cy="565" r="2.8" fill="#352a8c"/>
<circle cx="520.98" cy="568" r="2.8" fill="#352a8c"/>
<circle cx="537.64" cy="566.7" r="2.8" fill="#352a8c"/>
<circle cx="545.97" cy="553.3" r="2.8" fill="#352a8c"/>
<circle cx="554.3" cy="548.7" r="2.8" fill="#352a8c"/>
<line x1="447.7" y1="453.7" x2="447.7" y2="580" stroke="#111" stroke-width="1" shape-rendering="crispEdges"/>
<line x1="443.1" y1="579.5" x2="561" y2="579.5" stroke="#111" stroke-width="1" shape-rendering="crispEdges"/>
<line x1="443.1" y1="454.2" x2="447.7" y2="454.2" stroke="#000" stroke-width="1"/>
<text transform="translate(438.4 457.35) scale(1.21 1)" font-size="8.7" text-anchor="end" stroke="#1a1a1a" stroke-width="0.1">200</text>
<line x1="443.1" y1="485.3" x2="447.7" y2="485.3" stroke="#000" stroke-width="1"/>
<text transform="translate(438.4 488.45) scale(1.21 1)" font-size="8.7" text-anchor="end" stroke="#1a1a1a" stroke-width="0.1">150</text>
<line x1="443.1" y1="516.7" x2="447.7" y2="516.7" stroke="#000" stroke-width="1"/>
<text transform="translate(438.4 519.85) scale(1.21 1)" font-size="8.7" text-anchor="end" stroke="#1a1a1a" stroke-width="0.1">100</text>
<line x1="443.1" y1="548.3" x2="447.7" y2="548.3" stroke="#000" stroke-width="1"/>
<text transform="translate(438.4 551.45) scale(1.21 1)" font-size="8.7" text-anchor="end" stroke="#1a1a1a" stroke-width="0.1">50</text>
<text transform="translate(438.4 582.65) scale(1.21 1)" font-size="8.7" text-anchor="end" stroke="#1a1a1a" stroke-width="0.1">0</text>
<line x1="454.34" y1="579.5" x2="454.34" y2="584.1" stroke="#000" stroke-width="1"/>
<text transform="translate(454.34 595) scale(1.21 1)" font-size="8.7" text-anchor="middle" stroke="#1a1a1a" stroke-width="0.1">–2</text>
<line x1="471" y1="579.5" x2="471" y2="584.1" stroke="#000" stroke-width="1"/>
<text transform="translate(471 595) scale(1.21 1)" font-size="8.7" text-anchor="middle" stroke="#1a1a1a" stroke-width="0.1">0</text>
<line x1="487.66" y1="579.5" x2="487.66" y2="584.1" stroke="#000" stroke-width="1"/>
<text transform="translate(487.66 595) scale(1.21 1)" font-size="8.7" text-anchor="middle" stroke="#1a1a1a" stroke-width="0.1">2</text>
<line x1="504.32" y1="579.5" x2="504.32" y2="584.1" stroke="#000" stroke-width="1"/>
<text transform="translate(504.32 595) scale(1.21 1)" font-size="8.7" text-anchor="middle" stroke="#1a1a1a" stroke-width="0.1">4</text>
<line x1="520.98" y1="579.5" x2="520.98" y2="584.1" stroke="#000" stroke-width="1"/>
<text transform="translate(520.98 595) scale(1.21 1)" font-size="8.7" text-anchor="middle" stroke="#1a1a1a" stroke-width="0.1">6</text>
<line x1="537.64" y1="579.5" x2="537.64" y2="584.1" stroke="#000" stroke-width="1"/>
<text transform="translate(537.64 595) scale(1.21 1)" font-size="8.7" text-anchor="middle" stroke="#1a1a1a" stroke-width="0.1">8</text>
<line x1="554.3" y1="579.5" x2="554.3" y2="584.1" stroke="#000" stroke-width="1"/>
<text transform="translate(554.3 595) scale(1.21 1)" font-size="8.7" text-anchor="middle" stroke="#1a1a1a" stroke-width="0.1">10</text>
<text transform="translate(505.5 611.4) scale(1.21 1)" font-size="10.3" text-anchor="middle" stroke="#1a1a1a" stroke-width="0.1">Time (weeks)</text>
<text transform="translate(411.7 515) rotate(-90) scale(1 1)" font-size="11.3" text-anchor="middle" stroke="#1a1a1a" stroke-width="0.1">HOMA-IR</text>
</g>
<text transform="translate(689.4 443.3) scale(1.25 1)" font-size="10.3" text-anchor="middle" stroke="#1a1a1a" stroke-width="0.1">HOMA-IR</text>
<g>
<path d="M665.8 458.3L723.3 458.3L723.3 451Z" fill="#bdbdbd"/>
<line x1="660.5" y1="452.7" x2="660.5" y2="579.5" stroke="#333" stroke-width="1" stroke-dasharray="5.5 2.2"/>
<line x1="726.8" y1="452.7" x2="726.8" y2="579.5" stroke="#5e5e5e" stroke-width="1.6" stroke-dasharray="5.5 2.2"/>
<path d="M639.64 477V510M636.54 477H642.74M636.54 510H642.74M647.97 525V542.5M644.87 525H651.07M644.87 542.5H651.07M656.3 512.5V533.3M653.2 512.5H659.4M653.2 533.3H659.4M664.63 510V549.5M661.53 510H667.73M661.53 549.5H667.73M672.96 503.3V542.2M669.86 503.3H676.06M669.86 542.2H676.06M681.29 491.3V530.8M678.19 491.3H684.39M678.19 530.8H684.39M689.62 508.8V528.3M686.52 508.8H692.72M686.52 528.3H692.72M697.95 490.8V530.5M694.85 490.8H701.05M694.85 530.5H701.05M706.28 505.3V534.5M703.18 505.3H709.38M703.18 534.5H709.38M722.94 546.7V553.3M719.84 546.7H726.04M719.84 553.3H726.04M731.27 515.3V550.8M728.17 515.3H734.37M728.17 550.8H734.37M739.6 499.2V522.5M736.5 499.2H742.7M736.5 522.5H742.7" stroke="#ababab" stroke-width="0.85" fill="none" opacity="0.92"/>
<polyline points="639.64,493.3 647.97,533.8 656.3,521.2 664.63,530 672.96,522.8 681.29,511.3 689.62,518.8 697.95,510.8 706.28,520 722.94,549.5 731.27,533.8 739.6,511.3" fill="none" stroke="#ababab" stroke-width="1.1"/>
<circle cx="639.64" cy="493.3" r="2.8" fill="#ababab"/>
<circle cx="647.97" cy="533.8" r="2.8" fill="#ababab"/>
<circle cx="656.3" cy="521.2" r="2.8" fill="#ababab"/>
<circle cx="664.63" cy="530" r="2.8" fill="#ababab"/>
<circle cx="672.96" cy="522.8" r="2.8" fill="#ababab"/>
<circle cx="681.29" cy="511.3" r="2.8" fill="#ababab"/>
<circle cx="689.62" cy="518.8" r="2.8" fill="#ababab"/>
<circle cx="697.95" cy="510.8" r="2.8" fill="#ababab"/>
<circle cx="706.28" cy="520" r="2.8" fill="#ababab"/>
<circle cx="722.94" cy="549.5" r="2.8" fill="#ababab"/>
<circle cx="731.27" cy="533.8" r="2.8" fill="#ababab"/>
<circle cx="739.6" cy="511.3" r="2.8" fill="#ababab"/>
<path d="M639.64 499.5V519.5M636.54 499.5H642.74M636.54 519.5H642.74M647.97 516.7V528.3M644.87 516.7H651.07M644.87 528.3H651.07M656.3 512.5V525.5M653.2 512.5H659.4M653.2 525.5H659.4M664.63 530.8V542M661.53 530.8H667.73M661.53 542H667.73M672.96 516.7V534.7M669.86 516.7H676.06M669.86 534.7H676.06M681.29 521.3V536.2M678.19 521.3H684.39M678.19 536.2H684.39M689.62 541.3V554.2M686.52 541.3H692.72M686.52 554.2H692.72M697.95 544.5V559.2M694.85 544.5H701.05M694.85 559.2H701.05M706.28 549.5V559.7M703.18 549.5H709.38M703.18 559.7H709.38M722.94 560.3V564.7M719.84 560.3H726.04M719.84 564.7H726.04M731.27 546.7V555M728.17 546.7H734.37M728.17 555H734.37M739.6 530V545.3M736.5 530H742.7M736.5 545.3H742.7" stroke="#352a8c" stroke-width="0.85" fill="none" opacity="0.92"/>
<polyline points="639.64,509.7 647.97,522.5 656.3,519.2 664.63,536.3 672.96,525.5 681.29,528.3 689.62,547.5 697.95,551.7 706.28,554.5 722.94,562.5 731.27,550.8 739.6,537.8" fill="none" stroke="#352a8c" stroke-width="1.1"/>
<circle cx="639.64" cy="509.7" r="2.8" fill="#352a8c"/>
<circle cx="647.97" cy="522.5" r="2.8" fill="#352a8c"/>
<circle cx="656.3" cy="519.2" r="2.8" fill="#352a8c"/>
<circle cx="664.63" cy="536.3" r="2.8" fill="#352a8c"/>
<circle cx="672.96" cy="525.5" r="2.8" fill="#352a8c"/>
<circle cx="681.29" cy="528.3" r="2.8" fill="#352a8c"/>
<circle cx="689.62" cy="547.5" r="2.8" fill="#352a8c"/>
<circle cx="697.95" cy="551.7" r="2.8" fill="#352a8c"/>
<circle cx="706.28" cy="554.5" r="2.8" fill="#352a8c"/>
<circle cx="722.94" cy="562.5" r="2.8" fill="#352a8c"/>
<circle cx="731.27" cy="550.8" r="2.8" fill="#352a8c"/>
<circle cx="739.6" cy="537.8" r="2.8" fill="#352a8c"/>
<line x1="633.3" y1="453.7" x2="633.3" y2="580" stroke="#111" stroke-width="1" shape-rendering="crispEdges"/>
<line x1="628.7" y1="579.5" x2="747" y2="579.5" stroke="#111" stroke-width="1" shape-rendering="crispEdges"/>
<line x1="628.7" y1="454.2" x2="633.3" y2="454.2" stroke="#000" stroke-width="1"/>
<text transform="translate(624 457.35) scale(1.21 1)" font-size="8.7" text-anchor="end" stroke="#1a1a1a" stroke-width="0.1">100</text>
<line x1="628.7" y1="485.3" x2="633.3" y2="485.3" stroke="#000" stroke-width="1"/>
<text transform="translate(624 488.45) scale(1.21 1)" font-size="8.7" text-anchor="end" stroke="#1a1a1a" stroke-width="0.1">50</text>
<line x1="628.7" y1="516.7" x2="633.3" y2="516.7" stroke="#000" stroke-width="1"/>
<text transform="translate(624 519.85) scale(1.21 1)" font-size="8.7" text-anchor="end" stroke="#1a1a1a" stroke-width="0.1">0</text>
<line x1="628.7" y1="548.3" x2="633.3" y2="548.3" stroke="#000" stroke-width="1"/>
<text transform="translate(624 551.45) scale(1.21 1)" font-size="8.7" text-anchor="end" stroke="#1a1a1a" stroke-width="0.1">–50</text>
<text transform="translate(624 582.65) scale(1.21 1)" font-size="8.7" text-anchor="end" stroke="#1a1a1a" stroke-width="0.1">–100</text>
<line x1="639.64" y1="579.5" x2="639.64" y2="584.1" stroke="#000" stroke-width="1"/>
<text transform="translate(639.64 595) scale(1.21 1)" font-size="8.7" text-anchor="middle" stroke="#1a1a1a" stroke-width="0.1">–2</text>
<line x1="656.3" y1="579.5" x2="656.3" y2="584.1" stroke="#000" stroke-width="1"/>
<text transform="translate(656.3 595) scale(1.21 1)" font-size="8.7" text-anchor="middle" stroke="#1a1a1a" stroke-width="0.1">0</text>
<line x1="672.96" y1="579.5" x2="672.96" y2="584.1" stroke="#000" stroke-width="1"/>
<text transform="translate(672.96 595) scale(1.21 1)" font-size="8.7" text-anchor="middle" stroke="#1a1a1a" stroke-width="0.1">2</text>
<line x1="689.62" y1="579.5" x2="689.62" y2="584.1" stroke="#000" stroke-width="1"/>
<text transform="translate(689.62 595) scale(1.21 1)" font-size="8.7" text-anchor="middle" stroke="#1a1a1a" stroke-width="0.1">4</text>
<line x1="706.28" y1="579.5" x2="706.28" y2="584.1" stroke="#000" stroke-width="1"/>
<text transform="translate(706.28 595) scale(1.21 1)" font-size="8.7" text-anchor="middle" stroke="#1a1a1a" stroke-width="0.1">6</text>
<line x1="722.94" y1="579.5" x2="722.94" y2="584.1" stroke="#000" stroke-width="1"/>
<text transform="translate(722.94 595) scale(1.21 1)" font-size="8.7" text-anchor="middle" stroke="#1a1a1a" stroke-width="0.1">8</text>
<line x1="739.6" y1="579.5" x2="739.6" y2="584.1" stroke="#000" stroke-width="1"/>
<text transform="translate(739.6 595) scale(1.21 1)" font-size="8.7" text-anchor="middle" stroke="#1a1a1a" stroke-width="0.1">10</text>
<text transform="translate(691.5 611.4) scale(1.21 1)" font-size="10.3" text-anchor="middle" stroke="#1a1a1a" stroke-width="0.1">Time (weeks)</text>
<text transform="translate(594 516) rotate(-90) scale(1 1)" font-size="11.3" text-anchor="middle" stroke="#1a1a1a" stroke-width="0.1">Change from baseline (%)</text>
</g>
<text transform="translate(655.3 570.6) scale(1.21 1)" font-size="11.3" text-anchor="middle" >*</text>
<text transform="translate(657.6 579.8) scale(1.21 1)" font-size="11.3" text-anchor="end" >***</text>
<text transform="translate(662.8 567.5) scale(1.21 1)" font-size="8.7" stroke="#1a1a1a" stroke-width="0.1">Dose</text>
<text transform="translate(662.8 576.7) scale(1.21 1)" font-size="8.7" stroke="#1a1a1a" stroke-width="0.1">Group</text>
<text transform="translate(802.8 438.2) scale(1.28 1)" font-size="13.4" font-weight="bold" fill="#000" stroke="#000" stroke-width="0.35">k</text>
<text transform="translate(906.8 441.2) scale(1.25 1)" font-size="10.3" text-anchor="middle" stroke="#1a1a1a" stroke-width="0.1">Insulin:C-peptide</text>
<g>
<path d="M882.8 458.3L940 458.3L940 451Z" fill="#bdbdbd"/>
<line x1="878.5" y1="451.8" x2="878.5" y2="579.5" stroke="#333" stroke-width="1" stroke-dasharray="5.5 2.2"/>
<line x1="944.5" y1="451.8" x2="944.5" y2="579.5" stroke="#333" stroke-width="1" stroke-dasharray="5.5 2.2"/>
<path d="M857.1 484.2V512.2M854 484.2H860.2M854 512.2H860.2M865.45 511.7V527.5M862.35 511.7H868.55M862.35 527.5H868.55M873.8 526.7V538.3M870.7 526.7H876.9M870.7 538.3H876.9M882.15 510.5V545.3M879.05 510.5H885.25M879.05 545.3H885.25M890.5 508.3V532.2M887.4 508.3H893.6M887.4 532.2H893.6M898.85 513.3V536.2M895.75 513.3H901.95M895.75 536.2H901.95M907.2 508.3V525.5M904.1 508.3H910.3M904.1 525.5H910.3M915.55 469.5V522.2M912.45 469.5H918.65M912.45 522.2H918.65M923.9 511.7V530.5M920.8 511.7H927M920.8 530.5H927M940.6 538.3V546.7M937.5 538.3H943.7M937.5 546.7H943.7M948.95 517.5V536.7M945.85 517.5H952.05M945.85 536.7H952.05M957.3 505.3V528.3M954.2 505.3H960.4M954.2 528.3H960.4" stroke="#ababab" stroke-width="0.85" fill="none" opacity="0.92"/>
<polyline points="857.1,498 865.45,519.2 873.8,532.2 882.15,528 890.5,520 898.85,525 907.2,516.7 915.55,495.8 923.9,521.2 940.6,542.2 948.95,527.2 957.3,516.7" fill="none" stroke="#ababab" stroke-width="1.1"/>
<circle cx="857.1" cy="498" r="2.8" fill="#ababab"/>
<circle cx="865.45" cy="519.2" r="2.8" fill="#ababab"/>
<circle cx="873.8" cy="532.2" r="2.8" fill="#ababab"/>
<circle cx="882.15" cy="528" r="2.8" fill="#ababab"/>
<circle cx="890.5" cy="520" r="2.8" fill="#ababab"/>
<circle cx="898.85" cy="525" r="2.8" fill="#ababab"/>
<circle cx="907.2" cy="516.7" r="2.8" fill="#ababab"/>
<circle cx="915.55" cy="495.8" r="2.8" fill="#ababab"/>
<circle cx="923.9" cy="521.2" r="2.8" fill="#ababab"/>
<circle cx="940.6" cy="542.2" r="2.8" fill="#ababab"/>
<circle cx="948.95" cy="527.2" r="2.8" fill="#ababab"/>
<circle cx="957.3" cy="516.7" r="2.8" fill="#ababab"/>
<path d="M857.1 498.3V515.5M854 498.3H860.2M854 515.5H860.2M865.45 512.2V522.5M862.35 512.2H868.55M862.35 522.5H868.55M873.8 520.5V530M870.7 520.5H876.9M870.7 530H876.9M882.15 531.2V536.7M879.05 531.2H885.25M879.05 536.7H885.25M890.5 515.5V534.2M887.4 515.5H893.6M887.4 534.2H893.6M898.85 525V533.7M895.75 525H901.95M895.75 533.7H901.95M907.2 530.5V542.2M904.1 530.5H910.3M904.1 542.2H910.3M915.55 526.3V545.3M912.45 526.3H918.65M912.45 545.3H918.65M923.9 541.2V553.7M920.8 541.2H927M920.8 553.7H927M940.6 550.8V557.5M937.5 550.8H943.7M937.5 557.5H943.7M948.95 536.7V545.3M945.85 536.7H952.05M945.85 545.3H952.05M957.3 530.8V537.5M954.2 530.8H960.4M954.2 537.5H960.4" stroke="#352a8c" stroke-width="0.85" fill="none" opacity="0.92"/>
<polyline points="857.1,506.7 865.45,517.5 873.8,525.5 882.15,534.2 890.5,525 898.85,529.5 907.2,536.3 915.55,535.8 923.9,547.5 940.6,554.2 948.95,540.8 957.3,534.2" fill="none" stroke="#352a8c" stroke-width="1.1"/>
<circle cx="857.1" cy="506.7" r="2.8" fill="#352a8c"/>
<circle cx="865.45" cy="517.5" r="2.8" fill="#352a8c"/>
<circle cx="873.8" cy="525.5" r="2.8" fill="#352a8c"/>
<circle cx="882.15" cy="534.2" r="2.8" fill="#352a8c"/>
<circle cx="890.5" cy="525" r="2.8" fill="#352a8c"/>
<circle cx="898.85" cy="529.5" r="2.8" fill="#352a8c"/>
<circle cx="907.2" cy="536.3" r="2.8" fill="#352a8c"/>
<circle cx="915.55" cy="535.8" r="2.8" fill="#352a8c"/>
<circle cx="923.9" cy="547.5" r="2.8" fill="#352a8c"/>
<circle cx="940.6" cy="554.2" r="2.8" fill="#352a8c"/>
<circle cx="948.95" cy="540.8" r="2.8" fill="#352a8c"/>
<circle cx="957.3" cy="534.2" r="2.8" fill="#352a8c"/>
<line x1="850.5" y1="452.8" x2="850.5" y2="580" stroke="#111" stroke-width="1" shape-rendering="crispEdges"/>
<line x1="845.9" y1="579.5" x2="964" y2="579.5" stroke="#111" stroke-width="1" shape-rendering="crispEdges"/>
<line x1="845.9" y1="453.3" x2="850.5" y2="453.3" stroke="#000" stroke-width="1"/>
<text transform="translate(841.2 456.45) scale(1.21 1)" font-size="8.7" text-anchor="end" stroke="#1a1a1a" stroke-width="0.1">75</text>
<line x1="845.9" y1="474.3" x2="850.5" y2="474.3" stroke="#000" stroke-width="1"/>
<text transform="translate(841.2 477.45) scale(1.21 1)" font-size="8.7" text-anchor="end" stroke="#1a1a1a" stroke-width="0.1">50</text>
<line x1="845.9" y1="495.3" x2="850.5" y2="495.3" stroke="#000" stroke-width="1"/>
<text transform="translate(841.2 498.45) scale(1.21 1)" font-size="8.7" text-anchor="end" stroke="#1a1a1a" stroke-width="0.1">25</text>
<line x1="845.9" y1="516.3" x2="850.5" y2="516.3" stroke="#000" stroke-width="1"/>
<text transform="translate(841.2 519.45) scale(1.21 1)" font-size="8.7" text-anchor="end" stroke="#1a1a1a" stroke-width="0.1">0</text>
<line x1="845.9" y1="537.3" x2="850.5" y2="537.3" stroke="#000" stroke-width="1"/>
<text transform="translate(841.2 540.45) scale(1.21 1)" font-size="8.7" text-anchor="end" stroke="#1a1a1a" stroke-width="0.1">–25</text>
<line x1="845.9" y1="558.5" x2="850.5" y2="558.5" stroke="#000" stroke-width="1"/>
<text transform="translate(841.2 561.65) scale(1.21 1)" font-size="8.7" text-anchor="end" stroke="#1a1a1a" stroke-width="0.1">–50</text>
<text transform="translate(841.2 582.65) scale(1.21 1)" font-size="8.7" text-anchor="end" stroke="#1a1a1a" stroke-width="0.1">–75</text>
<line x1="857.1" y1="579.5" x2="857.1" y2="584.1" stroke="#000" stroke-width="1"/>
<text transform="translate(857.1 595) scale(1.21 1)" font-size="8.7" text-anchor="middle" stroke="#1a1a1a" stroke-width="0.1">–2</text>
<line x1="873.8" y1="579.5" x2="873.8" y2="584.1" stroke="#000" stroke-width="1"/>
<text transform="translate(873.8 595) scale(1.21 1)" font-size="8.7" text-anchor="middle" stroke="#1a1a1a" stroke-width="0.1">0</text>
<line x1="890.5" y1="579.5" x2="890.5" y2="584.1" stroke="#000" stroke-width="1"/>
<text transform="translate(890.5 595) scale(1.21 1)" font-size="8.7" text-anchor="middle" stroke="#1a1a1a" stroke-width="0.1">2</text>
<line x1="907.2" y1="579.5" x2="907.2" y2="584.1" stroke="#000" stroke-width="1"/>
<text transform="translate(907.2 595) scale(1.21 1)" font-size="8.7" text-anchor="middle" stroke="#1a1a1a" stroke-width="0.1">4</text>
<line x1="923.9" y1="579.5" x2="923.9" y2="584.1" stroke="#000" stroke-width="1"/>
<text transform="translate(923.9 595) scale(1.21 1)" font-size="8.7" text-anchor="middle" stroke="#1a1a1a" stroke-width="0.1">6</text>
<line x1="940.6" y1="579.5" x2="940.6" y2="584.1" stroke="#000" stroke-width="1"/>
<text transform="translate(940.6 595) scale(1.21 1)" font-size="8.7" text-anchor="middle" stroke="#1a1a1a" stroke-width="0.1">8</text>
<line x1="957.3" y1="579.5" x2="957.3" y2="584.1" stroke="#000" stroke-width="1"/>
<text transform="translate(957.3 595) scale(1.21 1)" font-size="8.7" text-anchor="middle" stroke="#1a1a1a" stroke-width="0.1">10</text>
<text transform="translate(908.5 611.4) scale(1.21 1)" font-size="10.3" text-anchor="middle" stroke="#1a1a1a" stroke-width="0.1">Time (weeks)</text>
<text transform="translate(814.3 516) rotate(-90) scale(1 1)" font-size="11.3" text-anchor="middle" stroke="#1a1a1a" stroke-width="0.1">Change from baseline (%)</text>
</g>
<text transform="translate(872.8 570.6) scale(1.21 1)" font-size="11.3" text-anchor="middle" >*</text>
<text transform="translate(872.8 579.8) scale(1.21 1)" font-size="11.3" text-anchor="middle" >*</text>
<text transform="translate(880.8 567.5) scale(1.21 1)" font-size="8.7" stroke="#1a1a1a" stroke-width="0.1">Dose</text>
<text transform="translate(880.8 576.7) scale(1.21 1)" font-size="8.7" stroke="#1a1a1a" stroke-width="0.1">Group</text>
<text transform="translate(4.3 641.3) scale(1.28 1)" font-size="13.4" font-weight="bold" fill="#000" stroke="#000" stroke-width="0.35">l</text>
<circle cx="56" cy="673" r="2.8" fill="#404040"/>
<text transform="translate(64.4 676.2) scale(1.2 1)" font-size="10.3" stroke="#1a1a1a" stroke-width="0.1">All NHPs</text>
<g>
<path d="M93.5 692.8L146.8 692.8L146.8 685.8Z" fill="#bdbdbd"/>
<line x1="84.7" y1="685.8" x2="84.7" y2="813.2" stroke="#5e5e5e" stroke-width="1.6" stroke-dasharray="5.5 2.2"/>
<line x1="151.5" y1="685.8" x2="151.5" y2="813.2" stroke="#5e5e5e" stroke-width="1.6" stroke-dasharray="5.5 2.2"/>
<path d="M64.08 701.5V743.7M60.98 701.5H67.18M60.98 743.7H67.18M72.44 719.2V763.7M69.34 719.2H75.54M69.34 763.7H75.54M80.8 706.5V753.7M77.7 706.5H83.9M77.7 753.7H83.9M89.16 737.3V775.3M86.06 737.3H92.26M86.06 775.3H92.26M97.52 752.3V780.7M94.42 752.3H100.62M94.42 780.7H100.62M105.88 750.3V789.5M102.78 750.3H108.98M102.78 789.5H108.98M114.24 752.3V787.3M111.14 752.3H117.34M111.14 787.3H117.34M122.6 754.2V783.3M119.5 754.2H125.7M119.5 783.3H125.7M130.96 756.5V784.5M127.86 756.5H134.06M127.86 784.5H134.06M147.68 751.2V786.5M144.58 751.2H150.78M144.58 786.5H150.78M156.04 726.2V759.8M152.94 726.2H159.14M152.94 759.8H159.14M164.4 735.7V769.5M161.3 735.7H167.5M161.3 769.5H167.5" stroke="#404040" stroke-width="0.85" fill="none" opacity="0.92"/>
<polyline points="64.08,722.3 72.44,741.7 80.8,730.3 89.16,756.5 97.52,766.7 105.88,769.8 114.24,770.3 122.6,769 130.96,770.7 147.68,768.7 156.04,743.3 164.4,753.2" fill="none" stroke="#404040" stroke-width="1.1"/>
<circle cx="64.08" cy="722.3" r="2.8" fill="#404040"/>
<circle cx="72.44" cy="741.7" r="2.8" fill="#404040"/>
<circle cx="80.8" cy="730.3" r="2.8" fill="#404040"/>
<circle cx="89.16" cy="756.5" r="2.8" fill="#404040"/>
<circle cx="97.52" cy="766.7" r="2.8" fill="#404040"/>
<circle cx="105.88" cy="769.8" r="2.8" fill="#404040"/>
<circle cx="114.24" cy="770.3" r="2.8" fill="#404040"/>
<circle cx="122.6" cy="769" r="2.8" fill="#404040"/>
<circle cx="130.96" cy="770.7" r="2.8" fill="#404040"/>
<circle cx="147.68" cy="768.7" r="2.8" fill="#404040"/>
<circle cx="156.04" cy="743.3" r="2.8" fill="#404040"/>
<circle cx="164.4" cy="753.2" r="2.8" fill="#404040"/>
<line x1="57.5" y1="686.8" x2="57.5" y2="813.7" stroke="#111" stroke-width="1" shape-rendering="crispEdges"/>
<line x1="52.9" y1="813.2" x2="171.7" y2="813.2" stroke="#111" stroke-width="1" shape-rendering="crispEdges"/>
<line x1="52.9" y1="687.3" x2="57.5" y2="687.3" stroke="#000" stroke-width="1"/>
<text transform="translate(48.2 690.45) scale(1.21 1)" font-size="8.7" text-anchor="end" stroke="#1a1a1a" stroke-width="0.1">200</text>
<line x1="52.9" y1="730.7" x2="57.5" y2="730.7" stroke="#000" stroke-width="1"/>
<text transform="translate(48.2 733.85) scale(1.21 1)" font-size="8.7" text-anchor="end" stroke="#1a1a1a" stroke-width="0.1">150</text>
<line x1="52.9" y1="774.2" x2="57.5" y2="774.2" stroke="#000" stroke-width="1"/>
<text transform="translate(48.2 777.35) scale(1.21 1)" font-size="8.7" text-anchor="end" stroke="#1a1a1a" stroke-width="0.1">100</text>
<text transform="translate(48.2 804.05) scale(1.21 1)" font-size="8.7" text-anchor="end" stroke="#1a1a1a" stroke-width="0.1">50</text>
<text transform="translate(48.2 816.35) scale(1.21 1)" font-size="8.7" text-anchor="end" stroke="#1a1a1a" stroke-width="0.1">0</text>
<line x1="64.08" y1="813.2" x2="64.08" y2="817.8" stroke="#000" stroke-width="1"/>
<text transform="translate(64.08 828.7) scale(1.21 1)" font-size="8.7" text-anchor="middle" stroke="#1a1a1a" stroke-width="0.1">–2</text>
<line x1="80.8" y1="813.2" x2="80.8" y2="817.8" stroke="#000" stroke-width="1"/>
<text transform="translate(80.8 828.7) scale(1.21 1)" font-size="8.7" text-anchor="middle" stroke="#1a1a1a" stroke-width="0.1">0</text>
<line x1="97.52" y1="813.2" x2="97.52" y2="817.8" stroke="#000" stroke-width="1"/>
<text transform="translate(97.52 828.7) scale(1.21 1)" font-size="8.7" text-anchor="middle" stroke="#1a1a1a" stroke-width="0.1">2</text>
<line x1="114.24" y1="813.2" x2="114.24" y2="817.8" stroke="#000" stroke-width="1"/>
<text transform="translate(114.24 828.7) scale(1.21 1)" font-size="8.7" text-anchor="middle" stroke="#1a1a1a" stroke-width="0.1">4</text>
<line x1="130.96" y1="813.2" x2="130.96" y2="817.8" stroke="#000" stroke-width="1"/>
<text transform="translate(130.96 828.7) scale(1.21 1)" font-size="8.7" text-anchor="middle" stroke="#1a1a1a" stroke-width="0.1">6</text>
<line x1="147.68" y1="813.2" x2="147.68" y2="817.8" stroke="#000" stroke-width="1"/>
<text transform="translate(147.68 828.7) scale(1.21 1)" font-size="8.7" text-anchor="middle" stroke="#1a1a1a" stroke-width="0.1">8</text>
<line x1="164.4" y1="813.2" x2="164.4" y2="817.8" stroke="#000" stroke-width="1"/>
<text transform="translate(164.4 828.7) scale(1.21 1)" font-size="8.7" text-anchor="middle" stroke="#1a1a1a" stroke-width="0.1">10</text>
<text transform="translate(114 845.1) scale(1.21 1)" font-size="10.3" text-anchor="middle" stroke="#1a1a1a" stroke-width="0.1">Time (weeks)</text>
<text transform="translate(14.3 747.5) rotate(-90) scale(1 1)" font-size="11.3" text-anchor="middle" stroke="#1a1a1a" stroke-width="0.1">Triglycerides (mg dl<tspan dy="-4.3" font-size="6.6" stroke="none">–1</tspan><tspan dy="4.3">)</tspan></text>
</g>
<path d="M53.3 799.3L61.7 792.5M53.3 802.9L61.7 796.1" stroke="#000" stroke-width="0.9" fill="none"/>
<text transform="translate(58.8 810.3) scale(1.21 1)" font-size="8.7" stroke="#1a1a1a" stroke-width="0.1">Dose</text>
<text transform="translate(89.7 813.6) scale(1.21 1)" font-size="11.3" text-anchor="middle" >*</text>
<text transform="translate(285.9 658.9) scale(1.25 1)" font-size="10.3" text-anchor="middle" stroke="#1a1a1a" stroke-width="0.1">Triglyceride</text>
<g>
<path d="M266.2 692.8L320 692.8L320 685.8Z" fill="#bdbdbd"/>
<line x1="257.5" y1="685.5" x2="257.5" y2="813.2" stroke="#333" stroke-width="1" stroke-dasharray="5.5 2.2"/>
<line x1="324.7" y1="685.5" x2="324.7" y2="813.2" stroke="#5e5e5e" stroke-width="1.6" stroke-dasharray="5.5 2.2"/>
<path d="M237.06 700.3V722.3M233.96 700.3H240.16M233.96 722.3H240.16M245.43 734.5V763.3M242.33 734.5H248.53M242.33 763.3H248.53M253.8 714.2V740M250.7 714.2H256.9M250.7 740H256.9M262.17 757.5V784.8M259.07 757.5H265.27M259.07 784.8H265.27M270.54 775.3V789.2M267.44 775.3H273.64M267.44 789.2H273.64M278.91 784.5V807M275.81 784.5H282.01M275.81 807H282.01M287.28 781.2V803.3M284.18 781.2H290.38M284.18 803.3H290.38M295.65 775.7V796.2M292.55 775.7H298.75M292.55 796.2H298.75M304.02 770.3V800.3M300.92 770.3H307.12M300.92 800.3H307.12M320.76 762.3V790.7M317.66 762.3H323.86M317.66 790.7H323.86M329.13 730.3V766.5M326.03 730.3H332.23M326.03 766.5H332.23M337.5 723.3V770.3M334.4 723.3H340.6M334.4 770.3H340.6" stroke="#404040" stroke-width="0.85" fill="none" opacity="0.92"/>
<polyline points="237.06,711.2 245.43,749.5 253.8,727.3 262.17,771.5 270.54,782 278.91,795.8 287.28,792.3 295.65,786.2 304.02,785.3 320.76,776.7 329.13,748.3 337.5,747.3" fill="none" stroke="#404040" stroke-width="1.1"/>
<circle cx="237.06" cy="711.2" r="2.8" fill="#404040"/>
<circle cx="245.43" cy="749.5" r="2.8" fill="#404040"/>
<circle cx="253.8" cy="727.3" r="2.8" fill="#404040"/>
<circle cx="262.17" cy="771.5" r="2.8" fill="#404040"/>
<circle cx="270.54" cy="782" r="2.8" fill="#404040"/>
<circle cx="278.91" cy="795.8" r="2.8" fill="#404040"/>
<circle cx="287.28" cy="792.3" r="2.8" fill="#404040"/>
<circle cx="295.65" cy="786.2" r="2.8" fill="#404040"/>
<circle cx="304.02" cy="785.3" r="2.8" fill="#404040"/>
<circle cx="320.76" cy="776.7" r="2.8" fill="#404040"/>
<circle cx="329.13" cy="748.3" r="2.8" fill="#404040"/>
<circle cx="337.5" cy="747.3" r="2.8" fill="#404040"/>
<line x1="230.7" y1="686.5" x2="230.7" y2="813.7" stroke="#111" stroke-width="1" shape-rendering="crispEdges"/>
<line x1="226.1" y1="813.2" x2="345" y2="813.2" stroke="#111" stroke-width="1" shape-rendering="crispEdges"/>
<line x1="226.1" y1="687" x2="230.7" y2="687" stroke="#000" stroke-width="1"/>
<text transform="translate(221.4 690.15) scale(1.21 1)" font-size="8.7" text-anchor="end" stroke="#1a1a1a" stroke-width="0.1">20</text>
<line x1="226.1" y1="729.2" x2="230.7" y2="729.2" stroke="#000" stroke-width="1"/>
<text transform="translate(221.4 732.35) scale(1.21 1)" font-size="8.7" text-anchor="end" stroke="#1a1a1a" stroke-width="0.1">0</text>
<line x1="226.1" y1="771.3" x2="230.7" y2="771.3" stroke="#000" stroke-width="1"/>
<text transform="translate(221.4 774.45) scale(1.21 1)" font-size="8.7" text-anchor="end" stroke="#1a1a1a" stroke-width="0.1">–20</text>
<text transform="translate(221.4 816.35) scale(1.21 1)" font-size="8.7" text-anchor="end" stroke="#1a1a1a" stroke-width="0.1">–40</text>
<line x1="237.06" y1="813.2" x2="237.06" y2="817.8" stroke="#000" stroke-width="1"/>
<text transform="translate(237.06 828.7) scale(1.21 1)" font-size="8.7" text-anchor="middle" stroke="#1a1a1a" stroke-width="0.1">–2</text>
<line x1="253.8" y1="813.2" x2="253.8" y2="817.8" stroke="#000" stroke-width="1"/>
<text transform="translate(253.8 828.7) scale(1.21 1)" font-size="8.7" text-anchor="middle" stroke="#1a1a1a" stroke-width="0.1">0</text>
<line x1="270.54" y1="813.2" x2="270.54" y2="817.8" stroke="#000" stroke-width="1"/>
<text transform="translate(270.54 828.7) scale(1.21 1)" font-size="8.7" text-anchor="middle" stroke="#1a1a1a" stroke-width="0.1">2</text>
<line x1="287.28" y1="813.2" x2="287.28" y2="817.8" stroke="#000" stroke-width="1"/>
<text transform="translate(287.28 828.7) scale(1.21 1)" font-size="8.7" text-anchor="middle" stroke="#1a1a1a" stroke-width="0.1">4</text>
<line x1="304.02" y1="813.2" x2="304.02" y2="817.8" stroke="#000" stroke-width="1"/>
<text transform="translate(304.02 828.7) scale(1.21 1)" font-size="8.7" text-anchor="middle" stroke="#1a1a1a" stroke-width="0.1">6</text>
<line x1="320.76" y1="813.2" x2="320.76" y2="817.8" stroke="#000" stroke-width="1"/>
<text transform="translate(320.76 828.7) scale(1.21 1)" font-size="8.7" text-anchor="middle" stroke="#1a1a1a" stroke-width="0.1">8</text>
<line x1="337.5" y1="813.2" x2="337.5" y2="817.8" stroke="#000" stroke-width="1"/>
<text transform="translate(337.5 828.7) scale(1.21 1)" font-size="8.7" text-anchor="middle" stroke="#1a1a1a" stroke-width="0.1">10</text>
<text transform="translate(288.5 845.1) scale(1.21 1)" font-size="10.3" text-anchor="middle" stroke="#1a1a1a" stroke-width="0.1">Time (weeks)</text>
<text transform="translate(194.8 749) rotate(-90) scale(1 1)" font-size="11.3" text-anchor="middle" stroke="#1a1a1a" stroke-width="0.1">Change from baseline (%)</text>
</g>
<text transform="translate(232 810.3) scale(1.21 1)" font-size="8.7" stroke="#1a1a1a" stroke-width="0.1">Dose</text>
<text transform="translate(265.7 813.6) scale(1.21 1)" font-size="11.3" text-anchor="middle" >**</text>
<text transform="translate(361.3 642.1) scale(1.28 1)" font-size="13.4" font-weight="bold" fill="#000" stroke="#000" stroke-width="0.35">m</text>
<path d="M429.2 695.6H585.6M362.9 727.2H585.6M362.9 755.5H585.6M362.9 783H585.6M362.9 727.2V783M429.2 695.6V783M507.4 695.6V783M585.6 695.6V783" stroke="#cfd3d3" stroke-width="1.1" fill="none"/>
<text transform="translate(468.3 707.9) scale(1.25 1)" font-size="10.3" text-anchor="middle" stroke="#1a1a1a" stroke-width="0.1">Low</text>
<text transform="translate(468.3 720.5) scale(1.25 1)" font-size="10.3" text-anchor="middle" stroke="#1a1a1a" stroke-width="0.1">cholesterol</text>
<text transform="translate(546.5 707.9) scale(1.25 1)" font-size="10.3" text-anchor="middle" stroke="#1a1a1a" stroke-width="0.1">High</text>
<text transform="translate(546.5 720.5) scale(1.25 1)" font-size="10.3" text-anchor="middle" stroke="#1a1a1a" stroke-width="0.1">cholesterol</text>
<text transform="translate(395.8 738) scale(1.25 1)" font-size="10.3" text-anchor="middle" stroke="#1a1a1a" stroke-width="0.1">Cholesterol</text>
<text transform="translate(467 745) scale(1.25 1)" font-size="10.3" text-anchor="middle" stroke="#1a1a1a" stroke-width="0.1">&lt; 200</text>
<text transform="translate(546.5 745) scale(1.25 1)" font-size="10.3" text-anchor="middle" stroke="#1a1a1a" stroke-width="0.1">&gt; 200</text>
<text transform="translate(468.3 772) scale(1.25 1)" font-size="10.3" text-anchor="middle" stroke="#1a1a1a" stroke-width="0.1">4</text>
<text transform="translate(548.6 772) scale(1.25 1)" font-size="10.3" text-anchor="middle" stroke="#1a1a1a" stroke-width="0.1">6</text>
<text transform="translate(394.2 772) scale(1.25 1)" font-size="10.3" text-anchor="middle" font-style="italic" stroke="#1a1a1a" stroke-width="0.1">n</text>
<text transform="translate(396 750.9) scale(1.25 1)" font-size="10.3" text-anchor="middle" stroke="#1a1a1a" stroke-width="0.1">(mg dl<tspan dy="-4.3" font-size="6.6" stroke="none">–1</tspan><tspan dy="4.3">)</tspan></text>
<text transform="translate(615.3 640.7) scale(1.28 1)" font-size="13.4" font-weight="bold" fill="#000" stroke="#000" stroke-width="0.35">n</text>
<text transform="translate(719 646.3) scale(1.25 1)" font-size="10.3" text-anchor="middle" stroke="#1a1a1a" stroke-width="0.1">Cholesterol</text>
<circle cx="643.8" cy="657.3" r="2.8" fill="#ababab"/>
<circle cx="643.8" cy="670.8" r="2.8" fill="#b9742f"/>
<text transform="translate(652.4 661.3) scale(1.24 1)" font-size="10.3" stroke="#1a1a1a" stroke-width="0.1">Low baseline cholesterol</text>
<text transform="translate(652.4 674.8) scale(1.24 1)" font-size="10.3" stroke="#1a1a1a" stroke-width="0.1">High baseline cholesterol</text>
<g>
<path d="M698.3 692.8L752.2 692.8L752.2 685.8Z" fill="#bdbdbd"/>
<line x1="690.5" y1="685.2" x2="690.5" y2="812.6" stroke="#333" stroke-width="1" stroke-dasharray="5.5 2.2"/>
<line x1="756.7" y1="685.2" x2="756.7" y2="812.6" stroke="#5e5e5e" stroke-width="1.6" stroke-dasharray="5.5 2.2"/>
<path d="M669.5 717.8V732.8M666.4 717.8H672.6M666.4 732.8H672.6M677.85 715.3V737M674.75 715.3H680.95M674.75 737H680.95M686.2 721.7V746.2M683.1 721.7H689.3M683.1 746.2H689.3M694.55 730.3V737.8M691.45 730.3H697.65M691.45 737.8H697.65M702.9 745.3V778.2M699.8 745.3H706M699.8 778.2H706M711.25 711.5V777.3M708.15 711.5H714.35M708.15 777.3H714.35M719.6 710.3V752.3M716.5 710.3H722.7M716.5 752.3H722.7M727.95 741.7V757.3M724.85 741.7H731.05M724.85 757.3H731.05M736.3 713.7V732M733.2 713.7H739.4M733.2 732H739.4M753 728.7V759.2M749.9 728.7H756.1M749.9 759.2H756.1M761.35 724.5V760.3M758.25 724.5H764.45M758.25 760.3H764.45M769.7 696.7V718.2M766.6 696.7H772.8M766.6 718.2H772.8" stroke="#ababab" stroke-width="0.85" fill="none" opacity="0.92"/>
<polyline points="669.5,725.3 677.85,726.2 686.2,733.7 694.55,734 702.9,761.5 711.25,744.5 719.6,731.2 727.95,749.2 736.3,723.2 753,744 761.35,742.3 769.7,707.5" fill="none" stroke="#ababab" stroke-width="1.1"/>
<circle cx="669.5" cy="725.3" r="2.8" fill="#ababab"/>
<circle cx="677.85" cy="726.2" r="2.8" fill="#ababab"/>
<circle cx="686.2" cy="733.7" r="2.8" fill="#ababab"/>
<circle cx="694.55" cy="734" r="2.8" fill="#ababab"/>
<circle cx="702.9" cy="761.5" r="2.8" fill="#ababab"/>
<circle cx="711.25" cy="744.5" r="2.8" fill="#ababab"/>
<circle cx="719.6" cy="731.2" r="2.8" fill="#ababab"/>
<circle cx="727.95" cy="749.2" r="2.8" fill="#ababab"/>
<circle cx="736.3" cy="723.2" r="2.8" fill="#ababab"/>
<circle cx="753" cy="744" r="2.8" fill="#ababab"/>
<circle cx="761.35" cy="742.3" r="2.8" fill="#ababab"/>
<circle cx="769.7" cy="707.5" r="2.8" fill="#ababab"/>
<path d="M669.5 713.3V731.2M666.4 713.3H672.6M666.4 731.2H672.6M677.85 727.8V741.5M674.75 727.8H680.95M674.75 741.5H680.95M686.2 721.5V736.2M683.1 721.5H689.3M683.1 736.2H689.3M694.55 719.5V732.8M691.45 719.5H697.65M691.45 732.8H697.65M702.9 729.5V745.3M699.8 729.5H706M699.8 745.3H706M711.25 743.7V764.2M708.15 743.7H714.35M708.15 764.2H714.35M719.6 747.5V766.2M716.5 747.5H722.7M716.5 766.2H722.7M727.95 777.3V789.2M724.85 777.3H731.05M724.85 789.2H731.05M736.3 760.7V798.3M733.2 760.7H739.4M733.2 798.3H739.4M753 779.5V807.8M749.9 779.5H756.1M749.9 807.8H756.1M761.35 754.5V788.2M758.25 754.5H764.45M758.25 788.2H764.45M769.7 720.3V754.2M766.6 720.3H772.8M766.6 754.2H772.8" stroke="#b9742f" stroke-width="0.85" fill="none" opacity="0.92"/>
<polyline points="669.5,722.3 677.85,734.5 686.2,729 694.55,726.2 702.9,737.5 711.25,753.7 719.6,757 727.95,783.2 736.3,779.8 753,793.7 761.35,771.7 769.7,737.5" fill="none" stroke="#b9742f" stroke-width="1.1"/>
<circle cx="669.5" cy="722.3" r="2.8" fill="#b9742f"/>
<circle cx="677.85" cy="734.5" r="2.8" fill="#b9742f"/>
<circle cx="686.2" cy="729" r="2.8" fill="#b9742f"/>
<circle cx="694.55" cy="726.2" r="2.8" fill="#b9742f"/>
<circle cx="702.9" cy="737.5" r="2.8" fill="#b9742f"/>
<circle cx="711.25" cy="753.7" r="2.8" fill="#b9742f"/>
<circle cx="719.6" cy="757" r="2.8" fill="#b9742f"/>
<circle cx="727.95" cy="783.2" r="2.8" fill="#b9742f"/>
<circle cx="736.3" cy="779.8" r="2.8" fill="#b9742f"/>
<circle cx="753" cy="793.7" r="2.8" fill="#b9742f"/>
<circle cx="761.35" cy="771.7" r="2.8" fill="#b9742f"/>
<circle cx="769.7" cy="737.5" r="2.8" fill="#b9742f"/>
<line x1="663" y1="686.2" x2="663" y2="813.1" stroke="#111" stroke-width="1" shape-rendering="crispEdges"/>
<line x1="658.4" y1="812.6" x2="775.5" y2="812.6" stroke="#111" stroke-width="1" shape-rendering="crispEdges"/>
<line x1="658.4" y1="686.7" x2="663" y2="686.7" stroke="#000" stroke-width="1"/>
<text transform="translate(653.7 689.85) scale(1.21 1)" font-size="8.7" text-anchor="end" stroke="#1a1a1a" stroke-width="0.1">10</text>
<line x1="658.4" y1="728.7" x2="663" y2="728.7" stroke="#000" stroke-width="1"/>
<text transform="translate(653.7 731.85) scale(1.21 1)" font-size="8.7" text-anchor="end" stroke="#1a1a1a" stroke-width="0.1">0</text>
<line x1="658.4" y1="770.3" x2="663" y2="770.3" stroke="#000" stroke-width="1"/>
<text transform="translate(653.7 773.45) scale(1.21 1)" font-size="8.7" text-anchor="end" stroke="#1a1a1a" stroke-width="0.1">–10</text>
<text transform="translate(653.7 815.75) scale(1.21 1)" font-size="8.7" text-anchor="end" stroke="#1a1a1a" stroke-width="0.1">–20</text>
<line x1="669.5" y1="812.6" x2="669.5" y2="817.2" stroke="#000" stroke-width="1"/>
<text transform="translate(669.5 828.1) scale(1.21 1)" font-size="8.7" text-anchor="middle" stroke="#1a1a1a" stroke-width="0.1">–2</text>
<line x1="686.2" y1="812.6" x2="686.2" y2="817.2" stroke="#000" stroke-width="1"/>
<text transform="translate(686.2 828.1) scale(1.21 1)" font-size="8.7" text-anchor="middle" stroke="#1a1a1a" stroke-width="0.1">0</text>
<line x1="702.9" y1="812.6" x2="702.9" y2="817.2" stroke="#000" stroke-width="1"/>
<text transform="translate(702.9 828.1) scale(1.21 1)" font-size="8.7" text-anchor="middle" stroke="#1a1a1a" stroke-width="0.1">2</text>
<line x1="719.6" y1="812.6" x2="719.6" y2="817.2" stroke="#000" stroke-width="1"/>
<text transform="translate(719.6 828.1) scale(1.21 1)" font-size="8.7" text-anchor="middle" stroke="#1a1a1a" stroke-width="0.1">4</text>
<line x1="736.3" y1="812.6" x2="736.3" y2="817.2" stroke="#000" stroke-width="1"/>
<text transform="translate(736.3 828.1) scale(1.21 1)" font-size="8.7" text-anchor="middle" stroke="#1a1a1a" stroke-width="0.1">6</text>
<line x1="753" y1="812.6" x2="753" y2="817.2" stroke="#000" stroke-width="1"/>
<text transform="translate(753 828.1) scale(1.21 1)" font-size="8.7" text-anchor="middle" stroke="#1a1a1a" stroke-width="0.1">8</text>
<line x1="769.7" y1="812.6" x2="769.7" y2="817.2" stroke="#000" stroke-width="1"/>
<text transform="translate(769.7 828.1) scale(1.21 1)" font-size="8.7" text-anchor="middle" stroke="#1a1a1a" stroke-width="0.1">10</text>
<text transform="translate(719.7 844.5) scale(1.21 1)" font-size="10.3" text-anchor="middle" stroke="#1a1a1a" stroke-width="0.1">Time (weeks)</text>
<text transform="translate(627.4 750) rotate(-90) scale(1 1)" font-size="11.3" text-anchor="middle" stroke="#1a1a1a" stroke-width="0.1">Change from baseline (%)</text>
</g>
<text transform="translate(685.5 804.3) scale(1.21 1)" font-size="11.3" text-anchor="middle" >*</text>
<text transform="translate(685.5 813.1) scale(1.21 1)" font-size="11.3" text-anchor="middle" >*</text>
<text transform="translate(693.3 801.2) scale(1.21 1)" font-size="8.7" stroke="#1a1a1a" stroke-width="0.1">Time</text>
<text transform="translate(693.3 810) scale(1.21 1)" font-size="8.7" stroke="#1a1a1a" stroke-width="0.1">Time × group</text>
<text transform="translate(806.3 640.7) scale(1.28 1)" font-size="13.4" font-weight="bold" fill="#000" stroke="#000" stroke-width="0.35">o</text>
<text transform="translate(908.6 663.8) scale(1.25 1)" font-size="10.3" text-anchor="middle" stroke="#1a1a1a" stroke-width="0.1">LDL</text>
<g>
<path d="M886.5 692.8L939.8 692.8L939.8 685.8Z" fill="#bdbdbd"/>
<line x1="878.8" y1="685.2" x2="878.8" y2="812.4" stroke="#5e5e5e" stroke-width="1.6" stroke-dasharray="5.5 2.2"/>
<line x1="945.5" y1="685.2" x2="945.5" y2="812.4" stroke="#333" stroke-width="1" stroke-dasharray="5.5 2.2"/>
<path d="M858 722.5V740.3M854.9 722.5H861.1M854.9 740.3H861.1M866.35 717.3V734M863.25 717.3H869.45M863.25 734H869.45M874.7 738.7V769.8M871.6 738.7H877.8M871.6 769.8H877.8M883.05 735.3V745.3M879.95 735.3H886.15M879.95 745.3H886.15M891.4 753.7V779.2M888.3 753.7H894.5M888.3 779.2H894.5M899.75 706.5V743.3M896.65 706.5H902.85M896.65 743.3H902.85M908.1 722.5V758.7M905 722.5H911.2M905 758.7H911.2M916.45 740.3V749.2M913.35 740.3H919.55M913.35 749.2H919.55M924.8 712.8V734.5M921.7 712.8H927.9M921.7 734.5H927.9M941.5 738.3V764.2M938.4 738.3H944.6M938.4 764.2H944.6M949.85 717.3V757.5M946.75 717.3H952.95M946.75 757.5H952.95M958.2 719.2V727M955.1 719.2H961.3M955.1 727H961.3" stroke="#ababab" stroke-width="0.85" fill="none" opacity="0.92"/>
<polyline points="858,731.2 866.35,725.7 874.7,754.2 883.05,740.3 891.4,766.2 899.75,725.3 908.1,740.3 916.45,744.8 924.8,724 941.5,751.7 949.85,737.5 958.2,723.2" fill="none" stroke="#ababab" stroke-width="1.1"/>
<circle cx="858" cy="731.2" r="2.8" fill="#ababab"/>
<circle cx="866.35" cy="725.7" r="2.8" fill="#ababab"/>
<circle cx="874.7" cy="754.2" r="2.8" fill="#ababab"/>
<circle cx="883.05" cy="740.3" r="2.8" fill="#ababab"/>
<circle cx="891.4" cy="766.2" r="2.8" fill="#ababab"/>
<circle cx="899.75" cy="725.3" r="2.8" fill="#ababab"/>
<circle cx="908.1" cy="740.3" r="2.8" fill="#ababab"/>
<circle cx="916.45" cy="744.8" r="2.8" fill="#ababab"/>
<circle cx="924.8" cy="724" r="2.8" fill="#ababab"/>
<circle cx="941.5" cy="751.7" r="2.8" fill="#ababab"/>
<circle cx="949.85" cy="737.5" r="2.8" fill="#ababab"/>
<circle cx="958.2" cy="723.2" r="2.8" fill="#ababab"/>
<path d="M858 731.2V743.2M854.9 731.2H861.1M854.9 743.2H861.1M866.35 729.8V738.2M863.25 729.8H869.45M863.25 738.2H869.45M874.7 731.5V747.3M871.6 731.5H877.8M871.6 747.3H877.8M883.05 737.8V745.3M879.95 737.8H886.15M879.95 745.3H886.15M891.4 742.5V754.5M888.3 742.5H894.5M888.3 754.5H894.5M899.75 737.5V765M896.65 737.5H902.85M896.65 765H902.85M908.1 747.3V763.2M905 747.3H911.2M905 763.2H911.2M916.45 771.5V779M913.35 771.5H919.55M913.35 779H919.55M924.8 766.5V792.3M921.7 766.5H927.9M921.7 792.3H927.9M941.5 782.3V806.2M938.4 782.3H944.6M938.4 806.2H944.6M949.85 756.5V781.5M946.75 756.5H952.95M946.75 781.5H952.95M958.2 721.7V753.3M955.1 721.7H961.3M955.1 753.3H961.3" stroke="#b9742f" stroke-width="0.85" fill="none" opacity="0.92"/>
<polyline points="858,737 866.35,734.2 874.7,739.5 883.05,741.5 891.4,748.7 899.75,751.5 908.1,755 916.45,775.3 924.8,779.5 941.5,794.2 949.85,769.2 958.2,737.8" fill="none" stroke="#b9742f" stroke-width="1.1"/>
<circle cx="858" cy="737" r="2.8" fill="#b9742f"/>
<circle cx="866.35" cy="734.2" r="2.8" fill="#b9742f"/>
<circle cx="874.7" cy="739.5" r="2.8" fill="#b9742f"/>
<circle cx="883.05" cy="741.5" r="2.8" fill="#b9742f"/>
<circle cx="891.4" cy="748.7" r="2.8" fill="#b9742f"/>
<circle cx="899.75" cy="751.5" r="2.8" fill="#b9742f"/>
<circle cx="908.1" cy="755" r="2.8" fill="#b9742f"/>
<circle cx="916.45" cy="775.3" r="2.8" fill="#b9742f"/>
<circle cx="924.8" cy="779.5" r="2.8" fill="#b9742f"/>
<circle cx="941.5" cy="794.2" r="2.8" fill="#b9742f"/>
<circle cx="949.85" cy="769.2" r="2.8" fill="#b9742f"/>
<circle cx="958.2" cy="737.8" r="2.8" fill="#b9742f"/>
<line x1="851.5" y1="686.2" x2="851.5" y2="812.9" stroke="#111" stroke-width="1" shape-rendering="crispEdges"/>
<line x1="846.9" y1="812.4" x2="965" y2="812.4" stroke="#111" stroke-width="1" shape-rendering="crispEdges"/>
<line x1="846.9" y1="686.7" x2="851.5" y2="686.7" stroke="#000" stroke-width="1"/>
<text transform="translate(842.2 689.85) scale(1.21 1)" font-size="8.7" text-anchor="end" stroke="#1a1a1a" stroke-width="0.1">20</text>
<line x1="846.9" y1="711.5" x2="851.5" y2="711.5" stroke="#000" stroke-width="1"/>
<text transform="translate(842.2 714.65) scale(1.21 1)" font-size="8.7" text-anchor="end" stroke="#1a1a1a" stroke-width="0.1">10</text>
<line x1="846.9" y1="737" x2="851.5" y2="737" stroke="#000" stroke-width="1"/>
<text transform="translate(842.2 740.15) scale(1.21 1)" font-size="8.7" text-anchor="end" stroke="#1a1a1a" stroke-width="0.1">0</text>
<line x1="846.9" y1="762.5" x2="851.5" y2="762.5" stroke="#000" stroke-width="1"/>
<text transform="translate(842.2 765.65) scale(1.21 1)" font-size="8.7" text-anchor="end" stroke="#1a1a1a" stroke-width="0.1">–10</text>
<line x1="846.9" y1="787.8" x2="851.5" y2="787.8" stroke="#000" stroke-width="1"/>
<text transform="translate(842.2 790.95) scale(1.21 1)" font-size="8.7" text-anchor="end" stroke="#1a1a1a" stroke-width="0.1">–20</text>
<text transform="translate(842.2 815.55) scale(1.21 1)" font-size="8.7" text-anchor="end" stroke="#1a1a1a" stroke-width="0.1">–30</text>
<line x1="858" y1="812.4" x2="858" y2="817" stroke="#000" stroke-width="1"/>
<text transform="translate(858 827.9) scale(1.21 1)" font-size="8.7" text-anchor="middle" stroke="#1a1a1a" stroke-width="0.1">–2</text>
<line x1="874.7" y1="812.4" x2="874.7" y2="817" stroke="#000" stroke-width="1"/>
<text transform="translate(874.7 827.9) scale(1.21 1)" font-size="8.7" text-anchor="middle" stroke="#1a1a1a" stroke-width="0.1">0</text>
<line x1="891.4" y1="812.4" x2="891.4" y2="817" stroke="#000" stroke-width="1"/>
<text transform="translate(891.4 827.9) scale(1.21 1)" font-size="8.7" text-anchor="middle" stroke="#1a1a1a" stroke-width="0.1">2</text>
<line x1="908.1" y1="812.4" x2="908.1" y2="817" stroke="#000" stroke-width="1"/>
<text transform="translate(908.1 827.9) scale(1.21 1)" font-size="8.7" text-anchor="middle" stroke="#1a1a1a" stroke-width="0.1">4</text>
<line x1="924.8" y1="812.4" x2="924.8" y2="817" stroke="#000" stroke-width="1"/>
<text transform="translate(924.8 827.9) scale(1.21 1)" font-size="8.7" text-anchor="middle" stroke="#1a1a1a" stroke-width="0.1">6</text>
<line x1="941.5" y1="812.4" x2="941.5" y2="817" stroke="#000" stroke-width="1"/>
<text transform="translate(941.5 827.9) scale(1.21 1)" font-size="8.7" text-anchor="middle" stroke="#1a1a1a" stroke-width="0.1">8</text>
<line x1="958.2" y1="812.4" x2="958.2" y2="817" stroke="#000" stroke-width="1"/>
<text transform="translate(958.2 827.9) scale(1.21 1)" font-size="8.7" text-anchor="middle" stroke="#1a1a1a" stroke-width="0.1">10</text>
<text transform="translate(908.4 844.3) scale(1.21 1)" font-size="10.3" text-anchor="middle" stroke="#1a1a1a" stroke-width="0.1">Time (weeks)</text>
<text transform="translate(817.5 750) rotate(-90) scale(1 1)" font-size="11.3" text-anchor="middle" stroke="#1a1a1a" stroke-width="0.1">Change from baseline (%)</text>
</g>
<text transform="translate(873.8 803.8) scale(1.21 1)" font-size="11.3" text-anchor="middle" >*</text>
<text transform="translate(876.1 813.1) scale(1.21 1)" font-size="11.3" text-anchor="end" >**</text>
<text transform="translate(881 800.7) scale(1.21 1)" font-size="8.7" stroke="#1a1a1a" stroke-width="0.1">Time</text>
<text transform="translate(881 810) scale(1.21 1)" font-size="8.7" stroke="#1a1a1a" stroke-width="0.1">Time × group</text>
</svg></body></html>
